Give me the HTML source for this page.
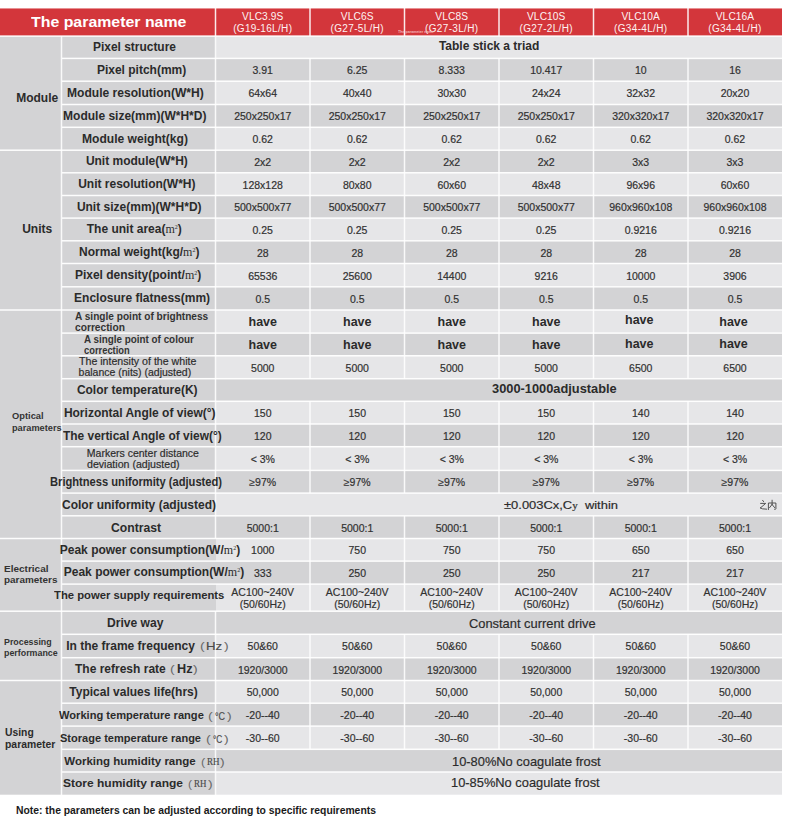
<!DOCTYPE html><html><head><meta charset="utf-8"><style>html,body{margin:0;padding:0}body{width:800px;height:825px;background:#fff;position:relative;overflow:hidden}.r{position:absolute}.t{position:absolute;white-space:nowrap;line-height:1;transform-origin:0 0}</style></head><body>
<div class="r" style="left:0px;top:9px;width:782px;height:27px;background:#d3363b"></div>
<div class="r" style="left:0px;top:8px;width:782px;height:1px;background:rgba(211,54,59,0.55)"></div>
<div class="r" style="left:0px;top:36px;width:62px;height:115px;background:#d3d3d5"></div>
<div class="r" style="left:0px;top:150px;width:62px;height:160px;background:#d3d3d5"></div>
<div class="r" style="left:0px;top:310px;width:62px;height:229px;background:#d3d3d5"></div>
<div class="r" style="left:0px;top:538px;width:62px;height:74px;background:#d3d3d5"></div>
<div class="r" style="left:0px;top:611px;width:62px;height:70px;background:#d3d3d5"></div>
<div class="r" style="left:0px;top:680px;width:62px;height:115px;background:#d3d3d5"></div>
<div class="r" style="left:61px;top:36px;width:155px;height:23px;background:#d3d3d5"></div>
<div class="r" style="left:216px;top:36px;width:566px;height:23px;background:#e6e6e8"></div>
<div class="r" style="left:61px;top:58px;width:155px;height:24px;background:#d3d3d5"></div>
<div class="r" style="left:216px;top:58px;width:566px;height:24px;background:#d3d3d5"></div>
<div class="r" style="left:61px;top:81px;width:155px;height:24px;background:#d3d3d5"></div>
<div class="r" style="left:216px;top:81px;width:566px;height:24px;background:#e6e6e8"></div>
<div class="r" style="left:61px;top:104px;width:155px;height:24px;background:#d3d3d5"></div>
<div class="r" style="left:216px;top:104px;width:566px;height:24px;background:#d3d3d5"></div>
<div class="r" style="left:61px;top:127px;width:155px;height:24px;background:#d3d3d5"></div>
<div class="r" style="left:216px;top:127px;width:566px;height:24px;background:#e6e6e8"></div>
<div class="r" style="left:61px;top:150px;width:155px;height:23px;background:#d3d3d5"></div>
<div class="r" style="left:216px;top:150px;width:566px;height:23px;background:#d3d3d5"></div>
<div class="r" style="left:61px;top:172px;width:155px;height:24px;background:#d3d3d5"></div>
<div class="r" style="left:216px;top:172px;width:566px;height:24px;background:#e6e6e8"></div>
<div class="r" style="left:61px;top:195px;width:155px;height:24px;background:#d3d3d5"></div>
<div class="r" style="left:216px;top:195px;width:566px;height:24px;background:#d3d3d5"></div>
<div class="r" style="left:61px;top:218px;width:155px;height:23px;background:#d3d3d5"></div>
<div class="r" style="left:216px;top:218px;width:566px;height:23px;background:#e6e6e8"></div>
<div class="r" style="left:61px;top:240px;width:155px;height:24px;background:#d3d3d5"></div>
<div class="r" style="left:216px;top:240px;width:566px;height:24px;background:#d3d3d5"></div>
<div class="r" style="left:61px;top:263px;width:155px;height:24px;background:#d3d3d5"></div>
<div class="r" style="left:216px;top:263px;width:566px;height:24px;background:#e6e6e8"></div>
<div class="r" style="left:61px;top:286px;width:155px;height:24px;background:#d3d3d5"></div>
<div class="r" style="left:216px;top:286px;width:566px;height:24px;background:#d3d3d5"></div>
<div class="r" style="left:61px;top:310px;width:155px;height:24px;background:#d3d3d5"></div>
<div class="r" style="left:216px;top:310px;width:566px;height:24px;background:#e6e6e8"></div>
<div class="r" style="left:61px;top:333px;width:155px;height:23px;background:#d3d3d5"></div>
<div class="r" style="left:216px;top:333px;width:566px;height:23px;background:#d3d3d5"></div>
<div class="r" style="left:61px;top:355px;width:155px;height:24px;background:#d3d3d5"></div>
<div class="r" style="left:216px;top:355px;width:566px;height:24px;background:#e6e6e8"></div>
<div class="r" style="left:61px;top:378px;width:155px;height:24px;background:#d3d3d5"></div>
<div class="r" style="left:216px;top:378px;width:566px;height:24px;background:#d3d3d5"></div>
<div class="r" style="left:61px;top:401px;width:155px;height:23px;background:#d3d3d5"></div>
<div class="r" style="left:216px;top:401px;width:566px;height:23px;background:#e6e6e8"></div>
<div class="r" style="left:61px;top:424px;width:155px;height:23px;background:#d3d3d5"></div>
<div class="r" style="left:216px;top:424px;width:566px;height:23px;background:#d3d3d5"></div>
<div class="r" style="left:61px;top:446px;width:155px;height:25px;background:#d3d3d5"></div>
<div class="r" style="left:216px;top:446px;width:566px;height:25px;background:#e6e6e8"></div>
<div class="r" style="left:61px;top:470px;width:155px;height:24px;background:#d3d3d5"></div>
<div class="r" style="left:216px;top:470px;width:566px;height:24px;background:#d3d3d5"></div>
<div class="r" style="left:61px;top:493px;width:155px;height:23px;background:#d3d3d5"></div>
<div class="r" style="left:216px;top:493px;width:566px;height:23px;background:#e6e6e8"></div>
<div class="r" style="left:61px;top:515px;width:155px;height:24px;background:#d3d3d5"></div>
<div class="r" style="left:216px;top:515px;width:566px;height:24px;background:#d3d3d5"></div>
<div class="r" style="left:61px;top:538px;width:155px;height:24px;background:#d3d3d5"></div>
<div class="r" style="left:216px;top:538px;width:566px;height:24px;background:#e6e6e8"></div>
<div class="r" style="left:61px;top:561px;width:155px;height:24px;background:#d3d3d5"></div>
<div class="r" style="left:216px;top:561px;width:566px;height:24px;background:#d3d3d5"></div>
<div class="r" style="left:61px;top:584px;width:155px;height:28px;background:#d3d3d5"></div>
<div class="r" style="left:216px;top:584px;width:566px;height:28px;background:#e6e6e8"></div>
<div class="r" style="left:61px;top:611px;width:155px;height:24px;background:#d3d3d5"></div>
<div class="r" style="left:216px;top:611px;width:566px;height:24px;background:#d3d3d5"></div>
<div class="r" style="left:61px;top:634px;width:155px;height:24px;background:#d3d3d5"></div>
<div class="r" style="left:216px;top:634px;width:566px;height:24px;background:#e6e6e8"></div>
<div class="r" style="left:61px;top:657px;width:155px;height:24px;background:#d3d3d5"></div>
<div class="r" style="left:216px;top:657px;width:566px;height:24px;background:#d3d3d5"></div>
<div class="r" style="left:61px;top:680px;width:155px;height:24px;background:#d3d3d5"></div>
<div class="r" style="left:216px;top:680px;width:566px;height:24px;background:#e6e6e8"></div>
<div class="r" style="left:61px;top:703px;width:155px;height:24px;background:#d3d3d5"></div>
<div class="r" style="left:216px;top:703px;width:566px;height:24px;background:#d3d3d5"></div>
<div class="r" style="left:61px;top:726px;width:155px;height:24px;background:#d3d3d5"></div>
<div class="r" style="left:216px;top:726px;width:566px;height:24px;background:#e6e6e8"></div>
<div class="r" style="left:61px;top:749px;width:155px;height:23px;background:#d3d3d5"></div>
<div class="r" style="left:216px;top:749px;width:566px;height:23px;background:#d3d3d5"></div>
<div class="r" style="left:61px;top:772px;width:155px;height:23px;background:#d3d3d5"></div>
<div class="r" style="left:216px;top:772px;width:566px;height:23px;background:#e6e6e8"></div>
<div class="r" style="left:0px;top:35px;width:782px;height:1px;background:rgba(255,255,255,0.617)"></div>
<div class="r" style="left:0px;top:36px;width:782px;height:1px;background:rgba(255,255,255,0.808)"></div>
<div class="r" style="left:62px;top:57px;width:720px;height:1px;background:rgba(255,255,255,0.333)"></div>
<div class="r" style="left:62px;top:58px;width:720px;height:1px;background:rgba(255,255,255,0.950)"></div>
<div class="r" style="left:62px;top:59px;width:720px;height:1px;background:rgba(255,255,255,0.142)"></div>
<div class="r" style="left:62px;top:80px;width:720px;height:1px;background:rgba(255,255,255,0.522)"></div>
<div class="r" style="left:62px;top:81px;width:720px;height:1px;background:rgba(255,255,255,0.903)"></div>
<div class="r" style="left:62px;top:103px;width:720px;height:1px;background:rgba(255,255,255,0.237)"></div>
<div class="r" style="left:62px;top:104px;width:720px;height:1px;background:rgba(255,255,255,0.950)"></div>
<div class="r" style="left:62px;top:105px;width:720px;height:1px;background:rgba(255,255,255,0.237)"></div>
<div class="r" style="left:62px;top:126px;width:720px;height:1px;background:rgba(255,255,255,0.428)"></div>
<div class="r" style="left:62px;top:127px;width:720px;height:1px;background:rgba(255,255,255,0.950)"></div>
<div class="r" style="left:62px;top:128px;width:720px;height:1px;background:rgba(255,255,255,0.048)"></div>
<div class="r" style="left:0px;top:149px;width:782px;height:1px;background:rgba(255,255,255,0.523)"></div>
<div class="r" style="left:0px;top:150px;width:782px;height:1px;background:rgba(255,255,255,0.902)"></div>
<div class="r" style="left:62px;top:172px;width:720px;height:1px;background:rgba(255,255,255,0.902)"></div>
<div class="r" style="left:62px;top:173px;width:720px;height:1px;background:rgba(255,255,255,0.523)"></div>
<div class="r" style="left:62px;top:194px;width:720px;height:1px;background:rgba(255,255,255,0.237)"></div>
<div class="r" style="left:62px;top:195px;width:720px;height:1px;background:rgba(255,255,255,0.950)"></div>
<div class="r" style="left:62px;top:196px;width:720px;height:1px;background:rgba(255,255,255,0.237)"></div>
<div class="r" style="left:62px;top:217px;width:720px;height:1px;background:rgba(255,255,255,0.618)"></div>
<div class="r" style="left:62px;top:218px;width:720px;height:1px;background:rgba(255,255,255,0.807)"></div>
<div class="r" style="left:62px;top:240px;width:720px;height:1px;background:rgba(255,255,255,0.902)"></div>
<div class="r" style="left:62px;top:241px;width:720px;height:1px;background:rgba(255,255,255,0.523)"></div>
<div class="r" style="left:62px;top:262px;width:720px;height:1px;background:rgba(255,255,255,0.237)"></div>
<div class="r" style="left:62px;top:263px;width:720px;height:1px;background:rgba(255,255,255,0.950)"></div>
<div class="r" style="left:62px;top:264px;width:720px;height:1px;background:rgba(255,255,255,0.237)"></div>
<div class="r" style="left:62px;top:286px;width:720px;height:1px;background:rgba(255,255,255,0.902)"></div>
<div class="r" style="left:62px;top:287px;width:720px;height:1px;background:rgba(255,255,255,0.523)"></div>
<div class="r" style="left:0px;top:309px;width:782px;height:1px;background:rgba(255,255,255,0.712)"></div>
<div class="r" style="left:0px;top:310px;width:782px;height:1px;background:rgba(255,255,255,0.712)"></div>
<div class="r" style="left:62px;top:332px;width:720px;height:1px;background:rgba(255,255,255,0.617)"></div>
<div class="r" style="left:62px;top:333px;width:720px;height:1px;background:rgba(255,255,255,0.808)"></div>
<div class="r" style="left:62px;top:355px;width:720px;height:1px;background:rgba(255,255,255,0.902)"></div>
<div class="r" style="left:62px;top:356px;width:720px;height:1px;background:rgba(255,255,255,0.523)"></div>
<div class="r" style="left:62px;top:377px;width:720px;height:1px;background:rgba(255,255,255,0.048)"></div>
<div class="r" style="left:62px;top:378px;width:720px;height:1px;background:rgba(255,255,255,0.950)"></div>
<div class="r" style="left:62px;top:379px;width:720px;height:1px;background:rgba(255,255,255,0.427)"></div>
<div class="r" style="left:62px;top:400px;width:720px;height:1px;background:rgba(255,255,255,0.427)"></div>
<div class="r" style="left:62px;top:401px;width:720px;height:1px;background:rgba(255,255,255,0.950)"></div>
<div class="r" style="left:62px;top:402px;width:720px;height:1px;background:rgba(255,255,255,0.048)"></div>
<div class="r" style="left:62px;top:423px;width:720px;height:1px;background:rgba(255,255,255,0.712)"></div>
<div class="r" style="left:62px;top:424px;width:720px;height:1px;background:rgba(255,255,255,0.712)"></div>
<div class="r" style="left:62px;top:445px;width:720px;height:1px;background:rgba(255,255,255,0.048)"></div>
<div class="r" style="left:62px;top:446px;width:720px;height:1px;background:rgba(255,255,255,0.950)"></div>
<div class="r" style="left:62px;top:447px;width:720px;height:1px;background:rgba(255,255,255,0.427)"></div>
<div class="r" style="left:62px;top:469px;width:720px;height:1px;background:rgba(255,255,255,0.333)"></div>
<div class="r" style="left:62px;top:470px;width:720px;height:1px;background:rgba(255,255,255,0.950)"></div>
<div class="r" style="left:62px;top:471px;width:720px;height:1px;background:rgba(255,255,255,0.142)"></div>
<div class="r" style="left:62px;top:492px;width:720px;height:1px;background:rgba(255,255,255,0.617)"></div>
<div class="r" style="left:62px;top:493px;width:720px;height:1px;background:rgba(255,255,255,0.808)"></div>
<div class="r" style="left:62px;top:515px;width:720px;height:1px;background:rgba(255,255,255,0.903)"></div>
<div class="r" style="left:62px;top:516px;width:720px;height:1px;background:rgba(255,255,255,0.522)"></div>
<div class="r" style="left:0px;top:537px;width:782px;height:1px;background:rgba(255,255,255,0.237)"></div>
<div class="r" style="left:0px;top:538px;width:782px;height:1px;background:rgba(255,255,255,0.950)"></div>
<div class="r" style="left:0px;top:539px;width:782px;height:1px;background:rgba(255,255,255,0.237)"></div>
<div class="r" style="left:62px;top:560px;width:720px;height:1px;background:rgba(255,255,255,0.617)"></div>
<div class="r" style="left:62px;top:561px;width:720px;height:1px;background:rgba(255,255,255,0.808)"></div>
<div class="r" style="left:62px;top:583px;width:720px;height:1px;background:rgba(255,255,255,0.617)"></div>
<div class="r" style="left:62px;top:584px;width:720px;height:1px;background:rgba(255,255,255,0.808)"></div>
<div class="r" style="left:0px;top:610px;width:782px;height:1px;background:rgba(255,255,255,0.522)"></div>
<div class="r" style="left:0px;top:611px;width:782px;height:1px;background:rgba(255,255,255,0.903)"></div>
<div class="r" style="left:62px;top:633px;width:720px;height:1px;background:rgba(255,255,255,0.428)"></div>
<div class="r" style="left:62px;top:634px;width:720px;height:1px;background:rgba(255,255,255,0.950)"></div>
<div class="r" style="left:62px;top:635px;width:720px;height:1px;background:rgba(255,255,255,0.047)"></div>
<div class="r" style="left:62px;top:656px;width:720px;height:1px;background:rgba(255,255,255,0.047)"></div>
<div class="r" style="left:62px;top:657px;width:720px;height:1px;background:rgba(255,255,255,0.950)"></div>
<div class="r" style="left:62px;top:658px;width:720px;height:1px;background:rgba(255,255,255,0.428)"></div>
<div class="r" style="left:0px;top:679px;width:782px;height:1px;background:rgba(255,255,255,0.237)"></div>
<div class="r" style="left:0px;top:680px;width:782px;height:1px;background:rgba(255,255,255,0.950)"></div>
<div class="r" style="left:0px;top:681px;width:782px;height:1px;background:rgba(255,255,255,0.237)"></div>
<div class="r" style="left:62px;top:702px;width:720px;height:1px;background:rgba(255,255,255,0.522)"></div>
<div class="r" style="left:62px;top:703px;width:720px;height:1px;background:rgba(255,255,255,0.903)"></div>
<div class="r" style="left:62px;top:725px;width:720px;height:1px;background:rgba(255,255,255,0.617)"></div>
<div class="r" style="left:62px;top:726px;width:720px;height:1px;background:rgba(255,255,255,0.808)"></div>
<div class="r" style="left:62px;top:748px;width:720px;height:1px;background:rgba(255,255,255,0.428)"></div>
<div class="r" style="left:62px;top:749px;width:720px;height:1px;background:rgba(255,255,255,0.950)"></div>
<div class="r" style="left:62px;top:750px;width:720px;height:1px;background:rgba(255,255,255,0.047)"></div>
<div class="r" style="left:62px;top:771px;width:720px;height:1px;background:rgba(255,255,255,0.712)"></div>
<div class="r" style="left:62px;top:772px;width:720px;height:1px;background:rgba(255,255,255,0.712)"></div>
<div class="r" style="left:0px;top:794px;width:782px;height:1px;background:rgba(255,255,255,0.300)"></div>
<div class="r" style="left:0px;top:795px;width:782px;height:1px;background:rgba(255,255,255,0.500)"></div>
<div class="r" style="left:60px;top:36px;width:1px;height:759px;background:rgba(255,255,255,0.212)"></div>
<div class="r" style="left:61px;top:36px;width:1px;height:759px;background:rgba(255,255,255,0.850)"></div>
<div class="r" style="left:62px;top:36px;width:1px;height:759px;background:rgba(255,255,255,0.212)"></div>
<div class="r" style="left:214px;top:36px;width:1px;height:22px;background:rgba(255,255,255,0.212)"></div>
<div class="r" style="left:215px;top:36px;width:1px;height:22px;background:rgba(255,255,255,0.850)"></div>
<div class="r" style="left:216px;top:36px;width:1px;height:22px;background:rgba(255,255,255,0.212)"></div>
<div class="r" style="left:214px;top:58px;width:1px;height:23px;background:rgba(255,255,255,0.212)"></div>
<div class="r" style="left:215px;top:58px;width:1px;height:23px;background:rgba(255,255,255,0.850)"></div>
<div class="r" style="left:216px;top:58px;width:1px;height:23px;background:rgba(255,255,255,0.212)"></div>
<div class="r" style="left:309px;top:58px;width:1px;height:23px;background:rgba(255,255,255,0.637)"></div>
<div class="r" style="left:310px;top:58px;width:1px;height:23px;background:rgba(255,255,255,0.637)"></div>
<div class="r" style="left:403px;top:58px;width:1px;height:23px;background:rgba(255,255,255,0.212)"></div>
<div class="r" style="left:404px;top:58px;width:1px;height:23px;background:rgba(255,255,255,0.850)"></div>
<div class="r" style="left:405px;top:58px;width:1px;height:23px;background:rgba(255,255,255,0.212)"></div>
<div class="r" style="left:498px;top:58px;width:1px;height:23px;background:rgba(255,255,255,0.637)"></div>
<div class="r" style="left:499px;top:58px;width:1px;height:23px;background:rgba(255,255,255,0.637)"></div>
<div class="r" style="left:592px;top:58px;width:1px;height:23px;background:rgba(255,255,255,0.212)"></div>
<div class="r" style="left:593px;top:58px;width:1px;height:23px;background:rgba(255,255,255,0.850)"></div>
<div class="r" style="left:594px;top:58px;width:1px;height:23px;background:rgba(255,255,255,0.212)"></div>
<div class="r" style="left:687px;top:58px;width:1px;height:23px;background:rgba(255,255,255,0.637)"></div>
<div class="r" style="left:688px;top:58px;width:1px;height:23px;background:rgba(255,255,255,0.637)"></div>
<div class="r" style="left:214px;top:81px;width:1px;height:23px;background:rgba(255,255,255,0.212)"></div>
<div class="r" style="left:215px;top:81px;width:1px;height:23px;background:rgba(255,255,255,0.850)"></div>
<div class="r" style="left:216px;top:81px;width:1px;height:23px;background:rgba(255,255,255,0.212)"></div>
<div class="r" style="left:309px;top:81px;width:1px;height:23px;background:rgba(255,255,255,0.637)"></div>
<div class="r" style="left:310px;top:81px;width:1px;height:23px;background:rgba(255,255,255,0.637)"></div>
<div class="r" style="left:403px;top:81px;width:1px;height:23px;background:rgba(255,255,255,0.212)"></div>
<div class="r" style="left:404px;top:81px;width:1px;height:23px;background:rgba(255,255,255,0.850)"></div>
<div class="r" style="left:405px;top:81px;width:1px;height:23px;background:rgba(255,255,255,0.212)"></div>
<div class="r" style="left:498px;top:81px;width:1px;height:23px;background:rgba(255,255,255,0.637)"></div>
<div class="r" style="left:499px;top:81px;width:1px;height:23px;background:rgba(255,255,255,0.637)"></div>
<div class="r" style="left:592px;top:81px;width:1px;height:23px;background:rgba(255,255,255,0.212)"></div>
<div class="r" style="left:593px;top:81px;width:1px;height:23px;background:rgba(255,255,255,0.850)"></div>
<div class="r" style="left:594px;top:81px;width:1px;height:23px;background:rgba(255,255,255,0.212)"></div>
<div class="r" style="left:687px;top:81px;width:1px;height:23px;background:rgba(255,255,255,0.637)"></div>
<div class="r" style="left:688px;top:81px;width:1px;height:23px;background:rgba(255,255,255,0.637)"></div>
<div class="r" style="left:214px;top:104px;width:1px;height:23px;background:rgba(255,255,255,0.212)"></div>
<div class="r" style="left:215px;top:104px;width:1px;height:23px;background:rgba(255,255,255,0.850)"></div>
<div class="r" style="left:216px;top:104px;width:1px;height:23px;background:rgba(255,255,255,0.212)"></div>
<div class="r" style="left:309px;top:104px;width:1px;height:23px;background:rgba(255,255,255,0.637)"></div>
<div class="r" style="left:310px;top:104px;width:1px;height:23px;background:rgba(255,255,255,0.637)"></div>
<div class="r" style="left:403px;top:104px;width:1px;height:23px;background:rgba(255,255,255,0.212)"></div>
<div class="r" style="left:404px;top:104px;width:1px;height:23px;background:rgba(255,255,255,0.850)"></div>
<div class="r" style="left:405px;top:104px;width:1px;height:23px;background:rgba(255,255,255,0.212)"></div>
<div class="r" style="left:498px;top:104px;width:1px;height:23px;background:rgba(255,255,255,0.637)"></div>
<div class="r" style="left:499px;top:104px;width:1px;height:23px;background:rgba(255,255,255,0.637)"></div>
<div class="r" style="left:592px;top:104px;width:1px;height:23px;background:rgba(255,255,255,0.212)"></div>
<div class="r" style="left:593px;top:104px;width:1px;height:23px;background:rgba(255,255,255,0.850)"></div>
<div class="r" style="left:594px;top:104px;width:1px;height:23px;background:rgba(255,255,255,0.212)"></div>
<div class="r" style="left:687px;top:104px;width:1px;height:23px;background:rgba(255,255,255,0.637)"></div>
<div class="r" style="left:688px;top:104px;width:1px;height:23px;background:rgba(255,255,255,0.637)"></div>
<div class="r" style="left:214px;top:127px;width:1px;height:23px;background:rgba(255,255,255,0.212)"></div>
<div class="r" style="left:215px;top:127px;width:1px;height:23px;background:rgba(255,255,255,0.850)"></div>
<div class="r" style="left:216px;top:127px;width:1px;height:23px;background:rgba(255,255,255,0.212)"></div>
<div class="r" style="left:309px;top:127px;width:1px;height:23px;background:rgba(255,255,255,0.637)"></div>
<div class="r" style="left:310px;top:127px;width:1px;height:23px;background:rgba(255,255,255,0.637)"></div>
<div class="r" style="left:403px;top:127px;width:1px;height:23px;background:rgba(255,255,255,0.212)"></div>
<div class="r" style="left:404px;top:127px;width:1px;height:23px;background:rgba(255,255,255,0.850)"></div>
<div class="r" style="left:405px;top:127px;width:1px;height:23px;background:rgba(255,255,255,0.212)"></div>
<div class="r" style="left:498px;top:127px;width:1px;height:23px;background:rgba(255,255,255,0.637)"></div>
<div class="r" style="left:499px;top:127px;width:1px;height:23px;background:rgba(255,255,255,0.637)"></div>
<div class="r" style="left:592px;top:127px;width:1px;height:23px;background:rgba(255,255,255,0.212)"></div>
<div class="r" style="left:593px;top:127px;width:1px;height:23px;background:rgba(255,255,255,0.850)"></div>
<div class="r" style="left:594px;top:127px;width:1px;height:23px;background:rgba(255,255,255,0.212)"></div>
<div class="r" style="left:687px;top:127px;width:1px;height:23px;background:rgba(255,255,255,0.637)"></div>
<div class="r" style="left:688px;top:127px;width:1px;height:23px;background:rgba(255,255,255,0.637)"></div>
<div class="r" style="left:214px;top:150px;width:1px;height:23px;background:rgba(255,255,255,0.212)"></div>
<div class="r" style="left:215px;top:150px;width:1px;height:23px;background:rgba(255,255,255,0.850)"></div>
<div class="r" style="left:216px;top:150px;width:1px;height:23px;background:rgba(255,255,255,0.212)"></div>
<div class="r" style="left:309px;top:150px;width:1px;height:23px;background:rgba(255,255,255,0.637)"></div>
<div class="r" style="left:310px;top:150px;width:1px;height:23px;background:rgba(255,255,255,0.637)"></div>
<div class="r" style="left:403px;top:150px;width:1px;height:23px;background:rgba(255,255,255,0.212)"></div>
<div class="r" style="left:404px;top:150px;width:1px;height:23px;background:rgba(255,255,255,0.850)"></div>
<div class="r" style="left:405px;top:150px;width:1px;height:23px;background:rgba(255,255,255,0.212)"></div>
<div class="r" style="left:498px;top:150px;width:1px;height:23px;background:rgba(255,255,255,0.637)"></div>
<div class="r" style="left:499px;top:150px;width:1px;height:23px;background:rgba(255,255,255,0.637)"></div>
<div class="r" style="left:592px;top:150px;width:1px;height:23px;background:rgba(255,255,255,0.212)"></div>
<div class="r" style="left:593px;top:150px;width:1px;height:23px;background:rgba(255,255,255,0.850)"></div>
<div class="r" style="left:594px;top:150px;width:1px;height:23px;background:rgba(255,255,255,0.212)"></div>
<div class="r" style="left:687px;top:150px;width:1px;height:23px;background:rgba(255,255,255,0.637)"></div>
<div class="r" style="left:688px;top:150px;width:1px;height:23px;background:rgba(255,255,255,0.637)"></div>
<div class="r" style="left:214px;top:173px;width:1px;height:23px;background:rgba(255,255,255,0.212)"></div>
<div class="r" style="left:215px;top:173px;width:1px;height:23px;background:rgba(255,255,255,0.850)"></div>
<div class="r" style="left:216px;top:173px;width:1px;height:23px;background:rgba(255,255,255,0.212)"></div>
<div class="r" style="left:309px;top:173px;width:1px;height:23px;background:rgba(255,255,255,0.637)"></div>
<div class="r" style="left:310px;top:173px;width:1px;height:23px;background:rgba(255,255,255,0.637)"></div>
<div class="r" style="left:403px;top:173px;width:1px;height:23px;background:rgba(255,255,255,0.212)"></div>
<div class="r" style="left:404px;top:173px;width:1px;height:23px;background:rgba(255,255,255,0.850)"></div>
<div class="r" style="left:405px;top:173px;width:1px;height:23px;background:rgba(255,255,255,0.212)"></div>
<div class="r" style="left:498px;top:173px;width:1px;height:23px;background:rgba(255,255,255,0.637)"></div>
<div class="r" style="left:499px;top:173px;width:1px;height:23px;background:rgba(255,255,255,0.637)"></div>
<div class="r" style="left:592px;top:173px;width:1px;height:23px;background:rgba(255,255,255,0.212)"></div>
<div class="r" style="left:593px;top:173px;width:1px;height:23px;background:rgba(255,255,255,0.850)"></div>
<div class="r" style="left:594px;top:173px;width:1px;height:23px;background:rgba(255,255,255,0.212)"></div>
<div class="r" style="left:687px;top:173px;width:1px;height:23px;background:rgba(255,255,255,0.637)"></div>
<div class="r" style="left:688px;top:173px;width:1px;height:23px;background:rgba(255,255,255,0.637)"></div>
<div class="r" style="left:214px;top:196px;width:1px;height:22px;background:rgba(255,255,255,0.212)"></div>
<div class="r" style="left:215px;top:196px;width:1px;height:22px;background:rgba(255,255,255,0.850)"></div>
<div class="r" style="left:216px;top:196px;width:1px;height:22px;background:rgba(255,255,255,0.212)"></div>
<div class="r" style="left:309px;top:196px;width:1px;height:22px;background:rgba(255,255,255,0.637)"></div>
<div class="r" style="left:310px;top:196px;width:1px;height:22px;background:rgba(255,255,255,0.637)"></div>
<div class="r" style="left:403px;top:196px;width:1px;height:22px;background:rgba(255,255,255,0.212)"></div>
<div class="r" style="left:404px;top:196px;width:1px;height:22px;background:rgba(255,255,255,0.850)"></div>
<div class="r" style="left:405px;top:196px;width:1px;height:22px;background:rgba(255,255,255,0.212)"></div>
<div class="r" style="left:498px;top:196px;width:1px;height:22px;background:rgba(255,255,255,0.637)"></div>
<div class="r" style="left:499px;top:196px;width:1px;height:22px;background:rgba(255,255,255,0.637)"></div>
<div class="r" style="left:592px;top:196px;width:1px;height:22px;background:rgba(255,255,255,0.212)"></div>
<div class="r" style="left:593px;top:196px;width:1px;height:22px;background:rgba(255,255,255,0.850)"></div>
<div class="r" style="left:594px;top:196px;width:1px;height:22px;background:rgba(255,255,255,0.212)"></div>
<div class="r" style="left:687px;top:196px;width:1px;height:22px;background:rgba(255,255,255,0.637)"></div>
<div class="r" style="left:688px;top:196px;width:1px;height:22px;background:rgba(255,255,255,0.637)"></div>
<div class="r" style="left:214px;top:218px;width:1px;height:23px;background:rgba(255,255,255,0.212)"></div>
<div class="r" style="left:215px;top:218px;width:1px;height:23px;background:rgba(255,255,255,0.850)"></div>
<div class="r" style="left:216px;top:218px;width:1px;height:23px;background:rgba(255,255,255,0.212)"></div>
<div class="r" style="left:309px;top:218px;width:1px;height:23px;background:rgba(255,255,255,0.637)"></div>
<div class="r" style="left:310px;top:218px;width:1px;height:23px;background:rgba(255,255,255,0.637)"></div>
<div class="r" style="left:403px;top:218px;width:1px;height:23px;background:rgba(255,255,255,0.212)"></div>
<div class="r" style="left:404px;top:218px;width:1px;height:23px;background:rgba(255,255,255,0.850)"></div>
<div class="r" style="left:405px;top:218px;width:1px;height:23px;background:rgba(255,255,255,0.212)"></div>
<div class="r" style="left:498px;top:218px;width:1px;height:23px;background:rgba(255,255,255,0.637)"></div>
<div class="r" style="left:499px;top:218px;width:1px;height:23px;background:rgba(255,255,255,0.637)"></div>
<div class="r" style="left:592px;top:218px;width:1px;height:23px;background:rgba(255,255,255,0.212)"></div>
<div class="r" style="left:593px;top:218px;width:1px;height:23px;background:rgba(255,255,255,0.850)"></div>
<div class="r" style="left:594px;top:218px;width:1px;height:23px;background:rgba(255,255,255,0.212)"></div>
<div class="r" style="left:687px;top:218px;width:1px;height:23px;background:rgba(255,255,255,0.637)"></div>
<div class="r" style="left:688px;top:218px;width:1px;height:23px;background:rgba(255,255,255,0.637)"></div>
<div class="r" style="left:214px;top:241px;width:1px;height:23px;background:rgba(255,255,255,0.212)"></div>
<div class="r" style="left:215px;top:241px;width:1px;height:23px;background:rgba(255,255,255,0.850)"></div>
<div class="r" style="left:216px;top:241px;width:1px;height:23px;background:rgba(255,255,255,0.212)"></div>
<div class="r" style="left:309px;top:241px;width:1px;height:23px;background:rgba(255,255,255,0.637)"></div>
<div class="r" style="left:310px;top:241px;width:1px;height:23px;background:rgba(255,255,255,0.637)"></div>
<div class="r" style="left:403px;top:241px;width:1px;height:23px;background:rgba(255,255,255,0.212)"></div>
<div class="r" style="left:404px;top:241px;width:1px;height:23px;background:rgba(255,255,255,0.850)"></div>
<div class="r" style="left:405px;top:241px;width:1px;height:23px;background:rgba(255,255,255,0.212)"></div>
<div class="r" style="left:498px;top:241px;width:1px;height:23px;background:rgba(255,255,255,0.637)"></div>
<div class="r" style="left:499px;top:241px;width:1px;height:23px;background:rgba(255,255,255,0.637)"></div>
<div class="r" style="left:592px;top:241px;width:1px;height:23px;background:rgba(255,255,255,0.212)"></div>
<div class="r" style="left:593px;top:241px;width:1px;height:23px;background:rgba(255,255,255,0.850)"></div>
<div class="r" style="left:594px;top:241px;width:1px;height:23px;background:rgba(255,255,255,0.212)"></div>
<div class="r" style="left:687px;top:241px;width:1px;height:23px;background:rgba(255,255,255,0.637)"></div>
<div class="r" style="left:688px;top:241px;width:1px;height:23px;background:rgba(255,255,255,0.637)"></div>
<div class="r" style="left:214px;top:264px;width:1px;height:23px;background:rgba(255,255,255,0.212)"></div>
<div class="r" style="left:215px;top:264px;width:1px;height:23px;background:rgba(255,255,255,0.850)"></div>
<div class="r" style="left:216px;top:264px;width:1px;height:23px;background:rgba(255,255,255,0.212)"></div>
<div class="r" style="left:309px;top:264px;width:1px;height:23px;background:rgba(255,255,255,0.637)"></div>
<div class="r" style="left:310px;top:264px;width:1px;height:23px;background:rgba(255,255,255,0.637)"></div>
<div class="r" style="left:403px;top:264px;width:1px;height:23px;background:rgba(255,255,255,0.212)"></div>
<div class="r" style="left:404px;top:264px;width:1px;height:23px;background:rgba(255,255,255,0.850)"></div>
<div class="r" style="left:405px;top:264px;width:1px;height:23px;background:rgba(255,255,255,0.212)"></div>
<div class="r" style="left:498px;top:264px;width:1px;height:23px;background:rgba(255,255,255,0.637)"></div>
<div class="r" style="left:499px;top:264px;width:1px;height:23px;background:rgba(255,255,255,0.637)"></div>
<div class="r" style="left:592px;top:264px;width:1px;height:23px;background:rgba(255,255,255,0.212)"></div>
<div class="r" style="left:593px;top:264px;width:1px;height:23px;background:rgba(255,255,255,0.850)"></div>
<div class="r" style="left:594px;top:264px;width:1px;height:23px;background:rgba(255,255,255,0.212)"></div>
<div class="r" style="left:687px;top:264px;width:1px;height:23px;background:rgba(255,255,255,0.637)"></div>
<div class="r" style="left:688px;top:264px;width:1px;height:23px;background:rgba(255,255,255,0.637)"></div>
<div class="r" style="left:214px;top:287px;width:1px;height:23px;background:rgba(255,255,255,0.212)"></div>
<div class="r" style="left:215px;top:287px;width:1px;height:23px;background:rgba(255,255,255,0.850)"></div>
<div class="r" style="left:216px;top:287px;width:1px;height:23px;background:rgba(255,255,255,0.212)"></div>
<div class="r" style="left:309px;top:287px;width:1px;height:23px;background:rgba(255,255,255,0.637)"></div>
<div class="r" style="left:310px;top:287px;width:1px;height:23px;background:rgba(255,255,255,0.637)"></div>
<div class="r" style="left:403px;top:287px;width:1px;height:23px;background:rgba(255,255,255,0.212)"></div>
<div class="r" style="left:404px;top:287px;width:1px;height:23px;background:rgba(255,255,255,0.850)"></div>
<div class="r" style="left:405px;top:287px;width:1px;height:23px;background:rgba(255,255,255,0.212)"></div>
<div class="r" style="left:498px;top:287px;width:1px;height:23px;background:rgba(255,255,255,0.637)"></div>
<div class="r" style="left:499px;top:287px;width:1px;height:23px;background:rgba(255,255,255,0.637)"></div>
<div class="r" style="left:592px;top:287px;width:1px;height:23px;background:rgba(255,255,255,0.212)"></div>
<div class="r" style="left:593px;top:287px;width:1px;height:23px;background:rgba(255,255,255,0.850)"></div>
<div class="r" style="left:594px;top:287px;width:1px;height:23px;background:rgba(255,255,255,0.212)"></div>
<div class="r" style="left:687px;top:287px;width:1px;height:23px;background:rgba(255,255,255,0.637)"></div>
<div class="r" style="left:688px;top:287px;width:1px;height:23px;background:rgba(255,255,255,0.637)"></div>
<div class="r" style="left:214px;top:310px;width:1px;height:23px;background:rgba(255,255,255,0.212)"></div>
<div class="r" style="left:215px;top:310px;width:1px;height:23px;background:rgba(255,255,255,0.850)"></div>
<div class="r" style="left:216px;top:310px;width:1px;height:23px;background:rgba(255,255,255,0.212)"></div>
<div class="r" style="left:309px;top:310px;width:1px;height:23px;background:rgba(255,255,255,0.637)"></div>
<div class="r" style="left:310px;top:310px;width:1px;height:23px;background:rgba(255,255,255,0.637)"></div>
<div class="r" style="left:403px;top:310px;width:1px;height:23px;background:rgba(255,255,255,0.212)"></div>
<div class="r" style="left:404px;top:310px;width:1px;height:23px;background:rgba(255,255,255,0.850)"></div>
<div class="r" style="left:405px;top:310px;width:1px;height:23px;background:rgba(255,255,255,0.212)"></div>
<div class="r" style="left:498px;top:310px;width:1px;height:23px;background:rgba(255,255,255,0.637)"></div>
<div class="r" style="left:499px;top:310px;width:1px;height:23px;background:rgba(255,255,255,0.637)"></div>
<div class="r" style="left:592px;top:310px;width:1px;height:23px;background:rgba(255,255,255,0.212)"></div>
<div class="r" style="left:593px;top:310px;width:1px;height:23px;background:rgba(255,255,255,0.850)"></div>
<div class="r" style="left:594px;top:310px;width:1px;height:23px;background:rgba(255,255,255,0.212)"></div>
<div class="r" style="left:687px;top:310px;width:1px;height:23px;background:rgba(255,255,255,0.637)"></div>
<div class="r" style="left:688px;top:310px;width:1px;height:23px;background:rgba(255,255,255,0.637)"></div>
<div class="r" style="left:214px;top:333px;width:1px;height:23px;background:rgba(255,255,255,0.212)"></div>
<div class="r" style="left:215px;top:333px;width:1px;height:23px;background:rgba(255,255,255,0.850)"></div>
<div class="r" style="left:216px;top:333px;width:1px;height:23px;background:rgba(255,255,255,0.212)"></div>
<div class="r" style="left:309px;top:333px;width:1px;height:23px;background:rgba(255,255,255,0.637)"></div>
<div class="r" style="left:310px;top:333px;width:1px;height:23px;background:rgba(255,255,255,0.637)"></div>
<div class="r" style="left:403px;top:333px;width:1px;height:23px;background:rgba(255,255,255,0.212)"></div>
<div class="r" style="left:404px;top:333px;width:1px;height:23px;background:rgba(255,255,255,0.850)"></div>
<div class="r" style="left:405px;top:333px;width:1px;height:23px;background:rgba(255,255,255,0.212)"></div>
<div class="r" style="left:498px;top:333px;width:1px;height:23px;background:rgba(255,255,255,0.637)"></div>
<div class="r" style="left:499px;top:333px;width:1px;height:23px;background:rgba(255,255,255,0.637)"></div>
<div class="r" style="left:592px;top:333px;width:1px;height:23px;background:rgba(255,255,255,0.212)"></div>
<div class="r" style="left:593px;top:333px;width:1px;height:23px;background:rgba(255,255,255,0.850)"></div>
<div class="r" style="left:594px;top:333px;width:1px;height:23px;background:rgba(255,255,255,0.212)"></div>
<div class="r" style="left:687px;top:333px;width:1px;height:23px;background:rgba(255,255,255,0.637)"></div>
<div class="r" style="left:688px;top:333px;width:1px;height:23px;background:rgba(255,255,255,0.637)"></div>
<div class="r" style="left:214px;top:356px;width:1px;height:23px;background:rgba(255,255,255,0.212)"></div>
<div class="r" style="left:215px;top:356px;width:1px;height:23px;background:rgba(255,255,255,0.850)"></div>
<div class="r" style="left:216px;top:356px;width:1px;height:23px;background:rgba(255,255,255,0.212)"></div>
<div class="r" style="left:309px;top:356px;width:1px;height:23px;background:rgba(255,255,255,0.637)"></div>
<div class="r" style="left:310px;top:356px;width:1px;height:23px;background:rgba(255,255,255,0.637)"></div>
<div class="r" style="left:403px;top:356px;width:1px;height:23px;background:rgba(255,255,255,0.212)"></div>
<div class="r" style="left:404px;top:356px;width:1px;height:23px;background:rgba(255,255,255,0.850)"></div>
<div class="r" style="left:405px;top:356px;width:1px;height:23px;background:rgba(255,255,255,0.212)"></div>
<div class="r" style="left:498px;top:356px;width:1px;height:23px;background:rgba(255,255,255,0.637)"></div>
<div class="r" style="left:499px;top:356px;width:1px;height:23px;background:rgba(255,255,255,0.637)"></div>
<div class="r" style="left:592px;top:356px;width:1px;height:23px;background:rgba(255,255,255,0.212)"></div>
<div class="r" style="left:593px;top:356px;width:1px;height:23px;background:rgba(255,255,255,0.850)"></div>
<div class="r" style="left:594px;top:356px;width:1px;height:23px;background:rgba(255,255,255,0.212)"></div>
<div class="r" style="left:687px;top:356px;width:1px;height:23px;background:rgba(255,255,255,0.637)"></div>
<div class="r" style="left:688px;top:356px;width:1px;height:23px;background:rgba(255,255,255,0.637)"></div>
<div class="r" style="left:214px;top:379px;width:1px;height:22px;background:rgba(255,255,255,0.212)"></div>
<div class="r" style="left:215px;top:379px;width:1px;height:22px;background:rgba(255,255,255,0.850)"></div>
<div class="r" style="left:216px;top:379px;width:1px;height:22px;background:rgba(255,255,255,0.212)"></div>
<div class="r" style="left:214px;top:401px;width:1px;height:23px;background:rgba(255,255,255,0.212)"></div>
<div class="r" style="left:215px;top:401px;width:1px;height:23px;background:rgba(255,255,255,0.850)"></div>
<div class="r" style="left:216px;top:401px;width:1px;height:23px;background:rgba(255,255,255,0.212)"></div>
<div class="r" style="left:309px;top:401px;width:1px;height:23px;background:rgba(255,255,255,0.637)"></div>
<div class="r" style="left:310px;top:401px;width:1px;height:23px;background:rgba(255,255,255,0.637)"></div>
<div class="r" style="left:403px;top:401px;width:1px;height:23px;background:rgba(255,255,255,0.212)"></div>
<div class="r" style="left:404px;top:401px;width:1px;height:23px;background:rgba(255,255,255,0.850)"></div>
<div class="r" style="left:405px;top:401px;width:1px;height:23px;background:rgba(255,255,255,0.212)"></div>
<div class="r" style="left:498px;top:401px;width:1px;height:23px;background:rgba(255,255,255,0.637)"></div>
<div class="r" style="left:499px;top:401px;width:1px;height:23px;background:rgba(255,255,255,0.637)"></div>
<div class="r" style="left:592px;top:401px;width:1px;height:23px;background:rgba(255,255,255,0.212)"></div>
<div class="r" style="left:593px;top:401px;width:1px;height:23px;background:rgba(255,255,255,0.850)"></div>
<div class="r" style="left:594px;top:401px;width:1px;height:23px;background:rgba(255,255,255,0.212)"></div>
<div class="r" style="left:687px;top:401px;width:1px;height:23px;background:rgba(255,255,255,0.637)"></div>
<div class="r" style="left:688px;top:401px;width:1px;height:23px;background:rgba(255,255,255,0.637)"></div>
<div class="r" style="left:214px;top:424px;width:1px;height:23px;background:rgba(255,255,255,0.212)"></div>
<div class="r" style="left:215px;top:424px;width:1px;height:23px;background:rgba(255,255,255,0.850)"></div>
<div class="r" style="left:216px;top:424px;width:1px;height:23px;background:rgba(255,255,255,0.212)"></div>
<div class="r" style="left:309px;top:424px;width:1px;height:23px;background:rgba(255,255,255,0.637)"></div>
<div class="r" style="left:310px;top:424px;width:1px;height:23px;background:rgba(255,255,255,0.637)"></div>
<div class="r" style="left:403px;top:424px;width:1px;height:23px;background:rgba(255,255,255,0.212)"></div>
<div class="r" style="left:404px;top:424px;width:1px;height:23px;background:rgba(255,255,255,0.850)"></div>
<div class="r" style="left:405px;top:424px;width:1px;height:23px;background:rgba(255,255,255,0.212)"></div>
<div class="r" style="left:498px;top:424px;width:1px;height:23px;background:rgba(255,255,255,0.637)"></div>
<div class="r" style="left:499px;top:424px;width:1px;height:23px;background:rgba(255,255,255,0.637)"></div>
<div class="r" style="left:592px;top:424px;width:1px;height:23px;background:rgba(255,255,255,0.212)"></div>
<div class="r" style="left:593px;top:424px;width:1px;height:23px;background:rgba(255,255,255,0.850)"></div>
<div class="r" style="left:594px;top:424px;width:1px;height:23px;background:rgba(255,255,255,0.212)"></div>
<div class="r" style="left:687px;top:424px;width:1px;height:23px;background:rgba(255,255,255,0.637)"></div>
<div class="r" style="left:688px;top:424px;width:1px;height:23px;background:rgba(255,255,255,0.637)"></div>
<div class="r" style="left:214px;top:447px;width:1px;height:23px;background:rgba(255,255,255,0.212)"></div>
<div class="r" style="left:215px;top:447px;width:1px;height:23px;background:rgba(255,255,255,0.850)"></div>
<div class="r" style="left:216px;top:447px;width:1px;height:23px;background:rgba(255,255,255,0.212)"></div>
<div class="r" style="left:309px;top:447px;width:1px;height:23px;background:rgba(255,255,255,0.637)"></div>
<div class="r" style="left:310px;top:447px;width:1px;height:23px;background:rgba(255,255,255,0.637)"></div>
<div class="r" style="left:403px;top:447px;width:1px;height:23px;background:rgba(255,255,255,0.212)"></div>
<div class="r" style="left:404px;top:447px;width:1px;height:23px;background:rgba(255,255,255,0.850)"></div>
<div class="r" style="left:405px;top:447px;width:1px;height:23px;background:rgba(255,255,255,0.212)"></div>
<div class="r" style="left:498px;top:447px;width:1px;height:23px;background:rgba(255,255,255,0.637)"></div>
<div class="r" style="left:499px;top:447px;width:1px;height:23px;background:rgba(255,255,255,0.637)"></div>
<div class="r" style="left:592px;top:447px;width:1px;height:23px;background:rgba(255,255,255,0.212)"></div>
<div class="r" style="left:593px;top:447px;width:1px;height:23px;background:rgba(255,255,255,0.850)"></div>
<div class="r" style="left:594px;top:447px;width:1px;height:23px;background:rgba(255,255,255,0.212)"></div>
<div class="r" style="left:687px;top:447px;width:1px;height:23px;background:rgba(255,255,255,0.637)"></div>
<div class="r" style="left:688px;top:447px;width:1px;height:23px;background:rgba(255,255,255,0.637)"></div>
<div class="r" style="left:214px;top:470px;width:1px;height:23px;background:rgba(255,255,255,0.212)"></div>
<div class="r" style="left:215px;top:470px;width:1px;height:23px;background:rgba(255,255,255,0.850)"></div>
<div class="r" style="left:216px;top:470px;width:1px;height:23px;background:rgba(255,255,255,0.212)"></div>
<div class="r" style="left:309px;top:470px;width:1px;height:23px;background:rgba(255,255,255,0.637)"></div>
<div class="r" style="left:310px;top:470px;width:1px;height:23px;background:rgba(255,255,255,0.637)"></div>
<div class="r" style="left:403px;top:470px;width:1px;height:23px;background:rgba(255,255,255,0.212)"></div>
<div class="r" style="left:404px;top:470px;width:1px;height:23px;background:rgba(255,255,255,0.850)"></div>
<div class="r" style="left:405px;top:470px;width:1px;height:23px;background:rgba(255,255,255,0.212)"></div>
<div class="r" style="left:498px;top:470px;width:1px;height:23px;background:rgba(255,255,255,0.637)"></div>
<div class="r" style="left:499px;top:470px;width:1px;height:23px;background:rgba(255,255,255,0.637)"></div>
<div class="r" style="left:592px;top:470px;width:1px;height:23px;background:rgba(255,255,255,0.212)"></div>
<div class="r" style="left:593px;top:470px;width:1px;height:23px;background:rgba(255,255,255,0.850)"></div>
<div class="r" style="left:594px;top:470px;width:1px;height:23px;background:rgba(255,255,255,0.212)"></div>
<div class="r" style="left:687px;top:470px;width:1px;height:23px;background:rgba(255,255,255,0.637)"></div>
<div class="r" style="left:688px;top:470px;width:1px;height:23px;background:rgba(255,255,255,0.637)"></div>
<div class="r" style="left:214px;top:493px;width:1px;height:23px;background:rgba(255,255,255,0.212)"></div>
<div class="r" style="left:215px;top:493px;width:1px;height:23px;background:rgba(255,255,255,0.850)"></div>
<div class="r" style="left:216px;top:493px;width:1px;height:23px;background:rgba(255,255,255,0.212)"></div>
<div class="r" style="left:214px;top:516px;width:1px;height:22px;background:rgba(255,255,255,0.212)"></div>
<div class="r" style="left:215px;top:516px;width:1px;height:22px;background:rgba(255,255,255,0.850)"></div>
<div class="r" style="left:216px;top:516px;width:1px;height:22px;background:rgba(255,255,255,0.212)"></div>
<div class="r" style="left:309px;top:516px;width:1px;height:22px;background:rgba(255,255,255,0.637)"></div>
<div class="r" style="left:310px;top:516px;width:1px;height:22px;background:rgba(255,255,255,0.637)"></div>
<div class="r" style="left:403px;top:516px;width:1px;height:22px;background:rgba(255,255,255,0.212)"></div>
<div class="r" style="left:404px;top:516px;width:1px;height:22px;background:rgba(255,255,255,0.850)"></div>
<div class="r" style="left:405px;top:516px;width:1px;height:22px;background:rgba(255,255,255,0.212)"></div>
<div class="r" style="left:498px;top:516px;width:1px;height:22px;background:rgba(255,255,255,0.637)"></div>
<div class="r" style="left:499px;top:516px;width:1px;height:22px;background:rgba(255,255,255,0.637)"></div>
<div class="r" style="left:592px;top:516px;width:1px;height:22px;background:rgba(255,255,255,0.212)"></div>
<div class="r" style="left:593px;top:516px;width:1px;height:22px;background:rgba(255,255,255,0.850)"></div>
<div class="r" style="left:594px;top:516px;width:1px;height:22px;background:rgba(255,255,255,0.212)"></div>
<div class="r" style="left:687px;top:516px;width:1px;height:22px;background:rgba(255,255,255,0.637)"></div>
<div class="r" style="left:688px;top:516px;width:1px;height:22px;background:rgba(255,255,255,0.637)"></div>
<div class="r" style="left:309px;top:538px;width:1px;height:23px;background:rgba(255,255,255,0.637)"></div>
<div class="r" style="left:310px;top:538px;width:1px;height:23px;background:rgba(255,255,255,0.637)"></div>
<div class="r" style="left:403px;top:538px;width:1px;height:23px;background:rgba(255,255,255,0.212)"></div>
<div class="r" style="left:404px;top:538px;width:1px;height:23px;background:rgba(255,255,255,0.850)"></div>
<div class="r" style="left:405px;top:538px;width:1px;height:23px;background:rgba(255,255,255,0.212)"></div>
<div class="r" style="left:498px;top:538px;width:1px;height:23px;background:rgba(255,255,255,0.637)"></div>
<div class="r" style="left:499px;top:538px;width:1px;height:23px;background:rgba(255,255,255,0.637)"></div>
<div class="r" style="left:592px;top:538px;width:1px;height:23px;background:rgba(255,255,255,0.212)"></div>
<div class="r" style="left:593px;top:538px;width:1px;height:23px;background:rgba(255,255,255,0.850)"></div>
<div class="r" style="left:594px;top:538px;width:1px;height:23px;background:rgba(255,255,255,0.212)"></div>
<div class="r" style="left:687px;top:538px;width:1px;height:23px;background:rgba(255,255,255,0.637)"></div>
<div class="r" style="left:688px;top:538px;width:1px;height:23px;background:rgba(255,255,255,0.637)"></div>
<div class="r" style="left:309px;top:561px;width:1px;height:23px;background:rgba(255,255,255,0.637)"></div>
<div class="r" style="left:310px;top:561px;width:1px;height:23px;background:rgba(255,255,255,0.637)"></div>
<div class="r" style="left:403px;top:561px;width:1px;height:23px;background:rgba(255,255,255,0.212)"></div>
<div class="r" style="left:404px;top:561px;width:1px;height:23px;background:rgba(255,255,255,0.850)"></div>
<div class="r" style="left:405px;top:561px;width:1px;height:23px;background:rgba(255,255,255,0.212)"></div>
<div class="r" style="left:498px;top:561px;width:1px;height:23px;background:rgba(255,255,255,0.637)"></div>
<div class="r" style="left:499px;top:561px;width:1px;height:23px;background:rgba(255,255,255,0.637)"></div>
<div class="r" style="left:592px;top:561px;width:1px;height:23px;background:rgba(255,255,255,0.212)"></div>
<div class="r" style="left:593px;top:561px;width:1px;height:23px;background:rgba(255,255,255,0.850)"></div>
<div class="r" style="left:594px;top:561px;width:1px;height:23px;background:rgba(255,255,255,0.212)"></div>
<div class="r" style="left:687px;top:561px;width:1px;height:23px;background:rgba(255,255,255,0.637)"></div>
<div class="r" style="left:688px;top:561px;width:1px;height:23px;background:rgba(255,255,255,0.637)"></div>
<div class="r" style="left:309px;top:584px;width:1px;height:27px;background:rgba(255,255,255,0.637)"></div>
<div class="r" style="left:310px;top:584px;width:1px;height:27px;background:rgba(255,255,255,0.637)"></div>
<div class="r" style="left:403px;top:584px;width:1px;height:27px;background:rgba(255,255,255,0.212)"></div>
<div class="r" style="left:404px;top:584px;width:1px;height:27px;background:rgba(255,255,255,0.850)"></div>
<div class="r" style="left:405px;top:584px;width:1px;height:27px;background:rgba(255,255,255,0.212)"></div>
<div class="r" style="left:498px;top:584px;width:1px;height:27px;background:rgba(255,255,255,0.637)"></div>
<div class="r" style="left:499px;top:584px;width:1px;height:27px;background:rgba(255,255,255,0.637)"></div>
<div class="r" style="left:592px;top:584px;width:1px;height:27px;background:rgba(255,255,255,0.212)"></div>
<div class="r" style="left:593px;top:584px;width:1px;height:27px;background:rgba(255,255,255,0.850)"></div>
<div class="r" style="left:594px;top:584px;width:1px;height:27px;background:rgba(255,255,255,0.212)"></div>
<div class="r" style="left:687px;top:584px;width:1px;height:27px;background:rgba(255,255,255,0.637)"></div>
<div class="r" style="left:688px;top:584px;width:1px;height:27px;background:rgba(255,255,255,0.637)"></div>
<div class="r" style="left:214px;top:611px;width:1px;height:23px;background:rgba(255,255,255,0.212)"></div>
<div class="r" style="left:215px;top:611px;width:1px;height:23px;background:rgba(255,255,255,0.850)"></div>
<div class="r" style="left:216px;top:611px;width:1px;height:23px;background:rgba(255,255,255,0.212)"></div>
<div class="r" style="left:214px;top:634px;width:1px;height:24px;background:rgba(255,255,255,0.212)"></div>
<div class="r" style="left:215px;top:634px;width:1px;height:24px;background:rgba(255,255,255,0.850)"></div>
<div class="r" style="left:216px;top:634px;width:1px;height:24px;background:rgba(255,255,255,0.212)"></div>
<div class="r" style="left:309px;top:634px;width:1px;height:24px;background:rgba(255,255,255,0.637)"></div>
<div class="r" style="left:310px;top:634px;width:1px;height:24px;background:rgba(255,255,255,0.637)"></div>
<div class="r" style="left:403px;top:634px;width:1px;height:24px;background:rgba(255,255,255,0.212)"></div>
<div class="r" style="left:404px;top:634px;width:1px;height:24px;background:rgba(255,255,255,0.850)"></div>
<div class="r" style="left:405px;top:634px;width:1px;height:24px;background:rgba(255,255,255,0.212)"></div>
<div class="r" style="left:498px;top:634px;width:1px;height:24px;background:rgba(255,255,255,0.637)"></div>
<div class="r" style="left:499px;top:634px;width:1px;height:24px;background:rgba(255,255,255,0.637)"></div>
<div class="r" style="left:592px;top:634px;width:1px;height:24px;background:rgba(255,255,255,0.212)"></div>
<div class="r" style="left:593px;top:634px;width:1px;height:24px;background:rgba(255,255,255,0.850)"></div>
<div class="r" style="left:594px;top:634px;width:1px;height:24px;background:rgba(255,255,255,0.212)"></div>
<div class="r" style="left:687px;top:634px;width:1px;height:24px;background:rgba(255,255,255,0.637)"></div>
<div class="r" style="left:688px;top:634px;width:1px;height:24px;background:rgba(255,255,255,0.637)"></div>
<div class="r" style="left:214px;top:658px;width:1px;height:22px;background:rgba(255,255,255,0.212)"></div>
<div class="r" style="left:215px;top:658px;width:1px;height:22px;background:rgba(255,255,255,0.850)"></div>
<div class="r" style="left:216px;top:658px;width:1px;height:22px;background:rgba(255,255,255,0.212)"></div>
<div class="r" style="left:309px;top:658px;width:1px;height:22px;background:rgba(255,255,255,0.637)"></div>
<div class="r" style="left:310px;top:658px;width:1px;height:22px;background:rgba(255,255,255,0.637)"></div>
<div class="r" style="left:403px;top:658px;width:1px;height:22px;background:rgba(255,255,255,0.212)"></div>
<div class="r" style="left:404px;top:658px;width:1px;height:22px;background:rgba(255,255,255,0.850)"></div>
<div class="r" style="left:405px;top:658px;width:1px;height:22px;background:rgba(255,255,255,0.212)"></div>
<div class="r" style="left:498px;top:658px;width:1px;height:22px;background:rgba(255,255,255,0.637)"></div>
<div class="r" style="left:499px;top:658px;width:1px;height:22px;background:rgba(255,255,255,0.637)"></div>
<div class="r" style="left:592px;top:658px;width:1px;height:22px;background:rgba(255,255,255,0.212)"></div>
<div class="r" style="left:593px;top:658px;width:1px;height:22px;background:rgba(255,255,255,0.850)"></div>
<div class="r" style="left:594px;top:658px;width:1px;height:22px;background:rgba(255,255,255,0.212)"></div>
<div class="r" style="left:687px;top:658px;width:1px;height:22px;background:rgba(255,255,255,0.637)"></div>
<div class="r" style="left:688px;top:658px;width:1px;height:22px;background:rgba(255,255,255,0.637)"></div>
<div class="r" style="left:214px;top:680px;width:1px;height:23px;background:rgba(255,255,255,0.212)"></div>
<div class="r" style="left:215px;top:680px;width:1px;height:23px;background:rgba(255,255,255,0.850)"></div>
<div class="r" style="left:216px;top:680px;width:1px;height:23px;background:rgba(255,255,255,0.212)"></div>
<div class="r" style="left:309px;top:680px;width:1px;height:23px;background:rgba(255,255,255,0.637)"></div>
<div class="r" style="left:310px;top:680px;width:1px;height:23px;background:rgba(255,255,255,0.637)"></div>
<div class="r" style="left:403px;top:680px;width:1px;height:23px;background:rgba(255,255,255,0.212)"></div>
<div class="r" style="left:404px;top:680px;width:1px;height:23px;background:rgba(255,255,255,0.850)"></div>
<div class="r" style="left:405px;top:680px;width:1px;height:23px;background:rgba(255,255,255,0.212)"></div>
<div class="r" style="left:498px;top:680px;width:1px;height:23px;background:rgba(255,255,255,0.637)"></div>
<div class="r" style="left:499px;top:680px;width:1px;height:23px;background:rgba(255,255,255,0.637)"></div>
<div class="r" style="left:592px;top:680px;width:1px;height:23px;background:rgba(255,255,255,0.212)"></div>
<div class="r" style="left:593px;top:680px;width:1px;height:23px;background:rgba(255,255,255,0.850)"></div>
<div class="r" style="left:594px;top:680px;width:1px;height:23px;background:rgba(255,255,255,0.212)"></div>
<div class="r" style="left:687px;top:680px;width:1px;height:23px;background:rgba(255,255,255,0.637)"></div>
<div class="r" style="left:688px;top:680px;width:1px;height:23px;background:rgba(255,255,255,0.637)"></div>
<div class="r" style="left:214px;top:703px;width:1px;height:23px;background:rgba(255,255,255,0.212)"></div>
<div class="r" style="left:215px;top:703px;width:1px;height:23px;background:rgba(255,255,255,0.850)"></div>
<div class="r" style="left:216px;top:703px;width:1px;height:23px;background:rgba(255,255,255,0.212)"></div>
<div class="r" style="left:309px;top:703px;width:1px;height:23px;background:rgba(255,255,255,0.637)"></div>
<div class="r" style="left:310px;top:703px;width:1px;height:23px;background:rgba(255,255,255,0.637)"></div>
<div class="r" style="left:403px;top:703px;width:1px;height:23px;background:rgba(255,255,255,0.212)"></div>
<div class="r" style="left:404px;top:703px;width:1px;height:23px;background:rgba(255,255,255,0.850)"></div>
<div class="r" style="left:405px;top:703px;width:1px;height:23px;background:rgba(255,255,255,0.212)"></div>
<div class="r" style="left:498px;top:703px;width:1px;height:23px;background:rgba(255,255,255,0.637)"></div>
<div class="r" style="left:499px;top:703px;width:1px;height:23px;background:rgba(255,255,255,0.637)"></div>
<div class="r" style="left:592px;top:703px;width:1px;height:23px;background:rgba(255,255,255,0.212)"></div>
<div class="r" style="left:593px;top:703px;width:1px;height:23px;background:rgba(255,255,255,0.850)"></div>
<div class="r" style="left:594px;top:703px;width:1px;height:23px;background:rgba(255,255,255,0.212)"></div>
<div class="r" style="left:687px;top:703px;width:1px;height:23px;background:rgba(255,255,255,0.637)"></div>
<div class="r" style="left:688px;top:703px;width:1px;height:23px;background:rgba(255,255,255,0.637)"></div>
<div class="r" style="left:214px;top:726px;width:1px;height:23px;background:rgba(255,255,255,0.212)"></div>
<div class="r" style="left:215px;top:726px;width:1px;height:23px;background:rgba(255,255,255,0.850)"></div>
<div class="r" style="left:216px;top:726px;width:1px;height:23px;background:rgba(255,255,255,0.212)"></div>
<div class="r" style="left:309px;top:726px;width:1px;height:23px;background:rgba(255,255,255,0.637)"></div>
<div class="r" style="left:310px;top:726px;width:1px;height:23px;background:rgba(255,255,255,0.637)"></div>
<div class="r" style="left:403px;top:726px;width:1px;height:23px;background:rgba(255,255,255,0.212)"></div>
<div class="r" style="left:404px;top:726px;width:1px;height:23px;background:rgba(255,255,255,0.850)"></div>
<div class="r" style="left:405px;top:726px;width:1px;height:23px;background:rgba(255,255,255,0.212)"></div>
<div class="r" style="left:498px;top:726px;width:1px;height:23px;background:rgba(255,255,255,0.637)"></div>
<div class="r" style="left:499px;top:726px;width:1px;height:23px;background:rgba(255,255,255,0.637)"></div>
<div class="r" style="left:592px;top:726px;width:1px;height:23px;background:rgba(255,255,255,0.212)"></div>
<div class="r" style="left:593px;top:726px;width:1px;height:23px;background:rgba(255,255,255,0.850)"></div>
<div class="r" style="left:594px;top:726px;width:1px;height:23px;background:rgba(255,255,255,0.212)"></div>
<div class="r" style="left:687px;top:726px;width:1px;height:23px;background:rgba(255,255,255,0.637)"></div>
<div class="r" style="left:688px;top:726px;width:1px;height:23px;background:rgba(255,255,255,0.637)"></div>
<div class="r" style="left:214px;top:749px;width:1px;height:23px;background:rgba(255,255,255,0.212)"></div>
<div class="r" style="left:215px;top:749px;width:1px;height:23px;background:rgba(255,255,255,0.850)"></div>
<div class="r" style="left:216px;top:749px;width:1px;height:23px;background:rgba(255,255,255,0.212)"></div>
<div class="r" style="left:214px;top:772px;width:1px;height:23px;background:rgba(255,255,255,0.212)"></div>
<div class="r" style="left:215px;top:772px;width:1px;height:23px;background:rgba(255,255,255,0.850)"></div>
<div class="r" style="left:216px;top:772px;width:1px;height:23px;background:rgba(255,255,255,0.212)"></div>
<div class="r" style="left:214px;top:8px;width:1px;height:28px;background:rgba(255,255,255,0.225)"></div>
<div class="r" style="left:215px;top:8px;width:1px;height:28px;background:rgba(255,255,255,0.900)"></div>
<div class="r" style="left:216px;top:8px;width:1px;height:28px;background:rgba(255,255,255,0.225)"></div>
<div class="r" style="left:309px;top:8px;width:1px;height:28px;background:rgba(255,255,255,0.675)"></div>
<div class="r" style="left:310px;top:8px;width:1px;height:28px;background:rgba(255,255,255,0.675)"></div>
<div class="r" style="left:403px;top:8px;width:1px;height:28px;background:rgba(255,255,255,0.225)"></div>
<div class="r" style="left:404px;top:8px;width:1px;height:28px;background:rgba(255,255,255,0.900)"></div>
<div class="r" style="left:405px;top:8px;width:1px;height:28px;background:rgba(255,255,255,0.225)"></div>
<div class="r" style="left:498px;top:8px;width:1px;height:28px;background:rgba(255,255,255,0.675)"></div>
<div class="r" style="left:499px;top:8px;width:1px;height:28px;background:rgba(255,255,255,0.675)"></div>
<div class="r" style="left:592px;top:8px;width:1px;height:28px;background:rgba(255,255,255,0.225)"></div>
<div class="r" style="left:593px;top:8px;width:1px;height:28px;background:rgba(255,255,255,0.900)"></div>
<div class="r" style="left:594px;top:8px;width:1px;height:28px;background:rgba(255,255,255,0.225)"></div>
<div class="r" style="left:687px;top:8px;width:1px;height:28px;background:rgba(255,255,255,0.675)"></div>
<div class="r" style="left:688px;top:8px;width:1px;height:28px;background:rgba(255,255,255,0.675)"></div>
<div class="t" style="left:31.45px;top:14.20px;transform:scaleX(1.0591);font-family:'Liberation Sans',sans-serif;font-weight:bold;font-size:15px;color:#ffffff">The parameter name</div>
<div class="t" style="left:242.01px;top:11.67px;font-family:'Liberation Sans',sans-serif;font-weight:normal;font-size:10.2px;color:#fdf3f3;letter-spacing:0.1px">VLC3.9S</div>
<div class="t" style="left:233.14px;top:24.24px;font-family:'Liberation Sans',sans-serif;font-weight:normal;font-size:10.0px;color:#fdf3f3;letter-spacing:0.33px">(G19-16L/H)</div>
<div class="t" style="left:340.86px;top:11.67px;font-family:'Liberation Sans',sans-serif;font-weight:normal;font-size:10.2px;color:#fdf3f3;letter-spacing:0.1px">VLC6S</div>
<div class="t" style="left:330.59px;top:24.24px;font-family:'Liberation Sans',sans-serif;font-weight:normal;font-size:10.0px;color:#fdf3f3;letter-spacing:0.33px">(G27-5L/H)</div>
<div class="t" style="left:435.36px;top:11.67px;font-family:'Liberation Sans',sans-serif;font-weight:normal;font-size:10.2px;color:#fdf3f3;letter-spacing:0.1px">VLC8S</div>
<div class="t" style="left:425.09px;top:24.24px;font-family:'Liberation Sans',sans-serif;font-weight:normal;font-size:10.0px;color:#fdf3f3;letter-spacing:0.33px">(G27-3L/H)</div>
<div class="t" style="left:526.98px;top:11.67px;font-family:'Liberation Sans',sans-serif;font-weight:normal;font-size:10.2px;color:#fdf3f3;letter-spacing:0.1px">VLC10S</div>
<div class="t" style="left:519.59px;top:24.24px;font-family:'Liberation Sans',sans-serif;font-weight:normal;font-size:10.0px;color:#fdf3f3;letter-spacing:0.33px">(G27-2L/H)</div>
<div class="t" style="left:621.48px;top:11.67px;font-family:'Liberation Sans',sans-serif;font-weight:normal;font-size:10.2px;color:#fdf3f3;letter-spacing:0.1px">VLC10A</div>
<div class="t" style="left:614.09px;top:24.24px;font-family:'Liberation Sans',sans-serif;font-weight:normal;font-size:10.0px;color:#fdf3f3;letter-spacing:0.33px">(G34-4L/H)</div>
<div class="t" style="left:715.73px;top:11.67px;font-family:'Liberation Sans',sans-serif;font-weight:normal;font-size:10.2px;color:#fdf3f3;letter-spacing:0.1px">VLC16A</div>
<div class="t" style="left:708.34px;top:24.24px;font-family:'Liberation Sans',sans-serif;font-weight:normal;font-size:10.0px;color:#fdf3f3;letter-spacing:0.33px">(G34-4L/H)</div>
<div class="t" style="left:398.18px;top:30.55px;transform:scaleX(1.0180);font-family:'Liberation Sans',sans-serif;font-weight:bold;font-size:3.6px;color:#f3b5b5">The parameter name</div>
<div class="t" style="left:16.18px;top:92.14px;font-family:'Liberation Sans',sans-serif;font-weight:bold;font-size:12px;color:#2b2b2b">Module</div>
<div class="t" style="left:22.18px;top:223.04px;font-family:'Liberation Sans',sans-serif;font-weight:bold;font-size:12px;color:#2b2b2b">Units</div>
<div class="t" style="left:11.94px;top:412.48px;transform:scaleX(1.0362);font-family:'Liberation Sans',sans-serif;font-weight:bold;font-size:9px;color:#333">Optical</div>
<div class="t" style="left:11.95px;top:423.68px;transform:scaleX(1.0221);font-family:'Liberation Sans',sans-serif;font-weight:bold;font-size:9px;color:#333">parameters</div>
<div class="t" style="left:4.10px;top:564.19px;transform:scaleX(1.0327);font-family:'Liberation Sans',sans-serif;font-weight:bold;font-size:9.7px;color:#333">Electrical</div>
<div class="t" style="left:4.10px;top:575.49px;transform:scaleX(1.0238);font-family:'Liberation Sans',sans-serif;font-weight:bold;font-size:9.7px;color:#333">parameters</div>
<div class="t" style="left:4.17px;top:638.14px;transform:scaleX(1.0175);font-family:'Liberation Sans',sans-serif;font-weight:bold;font-size:8.7px;color:#333">Processing</div>
<div class="t" style="left:4.17px;top:648.64px;transform:scaleX(1.0194);font-family:'Liberation Sans',sans-serif;font-weight:bold;font-size:8.7px;color:#333">performance</div>
<div class="t" style="left:5.08px;top:728.43px;transform:scaleX(1.0346);font-family:'Liberation Sans',sans-serif;font-weight:bold;font-size:10px;color:#2b2b2b">Using</div>
<div class="t" style="left:5.08px;top:740.24px;transform:scaleX(1.0390);font-family:'Liberation Sans',sans-serif;font-weight:bold;font-size:10px;color:#2b2b2b">parameter</div>
<div class="t" style="left:93.03px;top:41.09px;transform:scaleX(0.9947);font-family:'Liberation Sans',sans-serif;font-weight:bold;font-size:12px;color:#2b2b2b">Pixel structure</div>
<div class="t" style="left:96.88px;top:63.64px;font-family:'Liberation Sans',sans-serif;font-weight:bold;font-size:12px;color:#2b2b2b">Pixel pitch(mm)</div>
<div class="t" style="left:66.68px;top:86.69px;transform:scaleX(1.0056);font-family:'Liberation Sans',sans-serif;font-weight:bold;font-size:12px;color:#2b2b2b">Module resolution(W*H)</div>
<div class="t" style="left:63.08px;top:109.74px;font-family:'Liberation Sans',sans-serif;font-weight:bold;font-size:12px;color:#2b2b2b">Module size(mm)(W*H*D)</div>
<div class="t" style="left:81.78px;top:132.59px;transform:scaleX(1.0059);font-family:'Liberation Sans',sans-serif;font-weight:bold;font-size:12px;color:#2b2b2b">Module weight(kg)</div>
<div class="t" style="left:85.88px;top:155.34px;font-family:'Liberation Sans',sans-serif;font-weight:bold;font-size:12px;color:#2b2b2b">Unit module(W*H)</div>
<div class="t" style="left:78.18px;top:177.99px;font-family:'Liberation Sans',sans-serif;font-weight:bold;font-size:12px;color:#2b2b2b">Unit resolution(W*H)</div>
<div class="t" style="left:76.88px;top:200.64px;font-family:'Liberation Sans',sans-serif;font-weight:bold;font-size:12px;color:#2b2b2b">Unit size(mm)(W*H*D)</div>
<div class="t" style="left:86.78px;top:223.29px;font-family:'Liberation Sans',sans-serif;font-weight:bold;font-size:12px;color:#2b2b2b">The unit area(<span style="font-family:'Liberation Serif';font-weight:normal">m</span><span style="font-family:'Liberation Serif';font-weight:normal;font-size:0.5em;vertical-align:0.7em">2</span>)</div>
<div class="t" style="left:79.08px;top:245.99px;font-family:'Liberation Sans',sans-serif;font-weight:bold;font-size:12px;color:#2b2b2b">Normal weight(kg/<span style="font-family:'Liberation Serif';font-weight:normal">m</span><span style="font-family:'Liberation Serif';font-weight:normal;font-size:0.5em;vertical-align:0.7em">2</span>)</div>
<div class="t" style="left:74.88px;top:268.99px;font-family:'Liberation Sans',sans-serif;font-weight:bold;font-size:12px;color:#2b2b2b">Pixel density(point/<span style="font-family:'Liberation Serif';font-weight:normal">m</span><span style="font-family:'Liberation Serif';font-weight:normal;font-size:0.5em;vertical-align:0.7em">2</span>)</div>
<div class="t" style="left:74.08px;top:292.24px;font-family:'Liberation Sans',sans-serif;font-weight:bold;font-size:12px;color:#2b2b2b">Enclosure flatness(mm)</div>
<div class="t" style="left:74.99px;top:311.54px;transform:scaleX(1.0103);font-family:'Liberation Sans',sans-serif;font-weight:bold;font-size:10px;color:#333">A single point of brightness</div>
<div class="t" style="left:74.99px;top:323.34px;transform:scaleX(1.0208);font-family:'Liberation Sans',sans-serif;font-weight:bold;font-size:10px;color:#333">correction</div>
<div class="t" style="left:84.11px;top:334.54px;transform:scaleX(0.9864);font-family:'Liberation Sans',sans-serif;font-weight:bold;font-size:10px;color:#333">A single point of colour</div>
<div class="t" style="left:84.14px;top:346.34px;transform:scaleX(0.9349);font-family:'Liberation Sans',sans-serif;font-weight:bold;font-size:10px;color:#333">correction</div>
<div class="t" style="left:78.56px;top:355.51px;transform:scaleX(1.0105);font-family:'Liberation Sans',sans-serif;font-weight:normal;font-size:10.5px;color:#2b2b2b;-webkit-text-stroke:0.18px #2b2b2b">The intensity of the white</div>
<div class="t" style="left:78.57px;top:367.11px;font-family:'Liberation Sans',sans-serif;font-weight:normal;font-size:10.5px;color:#2b2b2b;-webkit-text-stroke:0.18px #2b2b2b">balance (nits) (adjusted)</div>
<div class="t" style="left:76.88px;top:383.84px;font-family:'Liberation Sans',sans-serif;font-weight:bold;font-size:12px;color:#2b2b2b">Color temperature(K)</div>
<div class="t" style="left:63.88px;top:407.29px;font-family:'Liberation Sans',sans-serif;font-weight:bold;font-size:12px;color:#2b2b2b">Horizontal Angle of view(°)</div>
<div class="t" style="left:63.08px;top:429.99px;transform:scaleX(0.9931);font-family:'Liberation Sans',sans-serif;font-weight:bold;font-size:12px;color:#2b2b2b">The vertical Angle of view(°)</div>
<div class="t" style="left:86.87px;top:448.11px;font-family:'Liberation Sans',sans-serif;font-weight:normal;font-size:10.5px;color:#2b2b2b;-webkit-text-stroke:0.18px #2b2b2b">Markers center distance</div>
<div class="t" style="left:86.86px;top:458.61px;transform:scaleX(1.0102);font-family:'Liberation Sans',sans-serif;font-weight:normal;font-size:10.5px;color:#2b2b2b;-webkit-text-stroke:0.18px #2b2b2b">deviation (adjusted)</div>
<div class="t" style="left:49.63px;top:476.39px;transform:scaleX(0.9282);font-family:'Liberation Sans',sans-serif;font-weight:bold;font-size:12px;color:#2b2b2b">Brightness uniformity (adjusted)</div>
<div class="t" style="left:61.98px;top:499.09px;font-family:'Liberation Sans',sans-serif;font-weight:bold;font-size:12px;color:#2b2b2b">Color uniformity (adjusted)</div>
<div class="t" style="left:110.67px;top:521.79px;transform:scaleX(1.0145);font-family:'Liberation Sans',sans-serif;font-weight:bold;font-size:12px;color:#2b2b2b">Contrast</div>
<div class="t" style="left:59.78px;top:544.44px;font-family:'Liberation Sans',sans-serif;font-weight:bold;font-size:12px;color:#2b2b2b">Peak power consumption(W/<span style="font-family:'Liberation Serif';font-weight:normal">m</span><span style="font-family:'Liberation Serif';font-weight:normal;font-size:0.5em;vertical-align:0.7em">2</span>)</div>
<div class="t" style="left:63.78px;top:566.04px;font-family:'Liberation Sans',sans-serif;font-weight:bold;font-size:12px;color:#2b2b2b">Peak power consumption(W/<span style="font-family:'Liberation Serif';font-weight:normal">m</span><span style="font-family:'Liberation Serif';font-weight:normal;font-size:0.5em;vertical-align:0.7em">2</span>)</div>
<div class="t" style="left:53.57px;top:589.62px;transform:scaleX(0.9800);font-family:'Liberation Sans',sans-serif;font-weight:bold;font-size:11.5px;color:#2b2b2b">The power supply requirements</div>
<div class="t" style="left:106.77px;top:616.89px;transform:scaleX(1.0072);font-family:'Liberation Sans',sans-serif;font-weight:bold;font-size:12px;color:#2b2b2b">Drive way</div>
<div class="t" style="left:66.28px;top:640.14px;font-family:'Liberation Sans',sans-serif;font-weight:bold;font-size:12px;color:#2b2b2b">In the frame frequency</div>
<div class="t" style="left:200.06px;top:641.29px;transform:scaleX(1.2756);font-family:'Liberation Sans',sans-serif;font-weight:normal;font-size:11px;color:#6a6a6a">(</div>
<div class="t" style="left:206.41px;top:641.41px;transform:scaleX(1.2604);font-family:'Liberation Sans',sans-serif;font-weight:normal;font-size:10.5px;color:#4a4a4a;-webkit-text-stroke:0.18px #4a4a4a">Hz</div>
<div class="t" style="left:223.56px;top:641.29px;transform:scaleX(1.2756);font-family:'Liberation Sans',sans-serif;font-weight:normal;font-size:11px;color:#6a6a6a">)</div>
<div class="t" style="left:75.03px;top:663.24px;font-family:'Liberation Sans',sans-serif;font-weight:bold;font-size:12px;color:#2b2b2b">The refresh rate</div>
<div class="t" style="left:169.76px;top:664.39px;transform:scaleX(1.2756);font-family:'Liberation Sans',sans-serif;font-weight:normal;font-size:11px;color:#6a6a6a">(</div>
<div class="t" style="left:176.84px;top:663.24px;transform:scaleX(1.0581);font-family:'Liberation Sans',sans-serif;font-weight:bold;font-size:12px;color:#2b2b2b">Hz</div>
<div class="t" style="left:193.46px;top:664.39px;transform:scaleX(1.2756);font-family:'Liberation Sans',sans-serif;font-weight:normal;font-size:11px;color:#6a6a6a">)</div>
<div class="t" style="left:69.28px;top:685.99px;font-family:'Liberation Sans',sans-serif;font-weight:bold;font-size:12px;color:#2b2b2b">Typical values life(hrs)</div>
<div class="t" style="left:58.83px;top:710.32px;transform:scaleX(0.9658);font-family:'Liberation Sans',sans-serif;font-weight:bold;font-size:11.5px;color:#2b2b2b">Working temperature range</div>
<div class="t" style="left:208.46px;top:711.04px;transform:scaleX(1.2756);font-family:'Liberation Sans',sans-serif;font-weight:normal;font-size:11px;color:#6a6a6a">(</div>
<div class="t" style="left:215.06px;top:711.16px;transform:scaleX(0.8541);font-family:'Liberation Sans',sans-serif;font-weight:normal;font-size:10.5px;color:#4a4a4a;-webkit-text-stroke:0.18px #4a4a4a">°C</div>
<div class="t" style="left:227.06px;top:711.04px;transform:scaleX(1.2756);font-family:'Liberation Sans',sans-serif;font-weight:normal;font-size:11px;color:#6a6a6a">)</div>
<div class="t" style="left:59.84px;top:733.37px;transform:scaleX(0.9593);font-family:'Liberation Sans',sans-serif;font-weight:bold;font-size:11.5px;color:#2b2b2b">Storage temperature range</div>
<div class="t" style="left:205.66px;top:734.09px;transform:scaleX(1.2756);font-family:'Liberation Sans',sans-serif;font-weight:normal;font-size:11px;color:#6a6a6a">(</div>
<div class="t" style="left:213.00px;top:734.21px;transform:scaleX(0.7877);font-family:'Liberation Sans',sans-serif;font-weight:normal;font-size:10.5px;color:#4a4a4a;-webkit-text-stroke:0.18px #4a4a4a">°C</div>
<div class="t" style="left:224.26px;top:734.09px;transform:scaleX(1.2756);font-family:'Liberation Sans',sans-serif;font-weight:normal;font-size:11px;color:#6a6a6a">)</div>
<div class="t" style="left:64.31px;top:756.32px;font-family:'Liberation Sans',sans-serif;font-weight:bold;font-size:11.5px;color:#2b2b2b">Working humidity range</div>
<div class="t" style="left:201.14px;top:757.04px;transform:scaleX(1.1480);font-family:'Liberation Sans',sans-serif;font-weight:normal;font-size:11px;color:#6a6a6a">(</div>
<div class="t" style="left:207.06px;top:758.01px;transform:scaleX(0.9450);font-family:'Liberation Serif',sans-serif;font-weight:normal;font-size:9.5px;color:#4a4a4a;-webkit-text-stroke:0.18px #4a4a4a">RH</div>
<div class="t" style="left:220.36px;top:757.04px;transform:scaleX(1.2756);font-family:'Liberation Sans',sans-serif;font-weight:normal;font-size:11px;color:#6a6a6a">)</div>
<div class="t" style="left:62.53px;top:778.22px;transform:scaleX(1.0431);font-family:'Liberation Sans',sans-serif;font-weight:bold;font-size:11.5px;color:#2b2b2b">Store humidity range</div>
<div class="t" style="left:188.07px;top:778.94px;transform:scaleX(1.1055);font-family:'Liberation Sans',sans-serif;font-weight:normal;font-size:11px;color:#6a6a6a">(</div>
<div class="t" style="left:194.47px;top:779.91px;transform:scaleX(0.9367);font-family:'Liberation Serif',sans-serif;font-weight:normal;font-size:9.5px;color:#4a4a4a;-webkit-text-stroke:0.18px #4a4a4a">RH</div>
<div class="t" style="left:208.16px;top:778.94px;transform:scaleX(1.2756);font-family:'Liberation Sans',sans-serif;font-weight:normal;font-size:11px;color:#6a6a6a">)</div>
<div class="t" style="left:252.53px;top:65.21px;font-family:'Liberation Sans',sans-serif;font-weight:normal;font-size:10.5px;color:#303030;-webkit-text-stroke:0.18px #303030">3.91</div>
<div class="t" style="left:347.03px;top:65.21px;font-family:'Liberation Sans',sans-serif;font-weight:normal;font-size:10.5px;color:#303030;-webkit-text-stroke:0.18px #303030">6.25</div>
<div class="t" style="left:438.61px;top:65.21px;font-family:'Liberation Sans',sans-serif;font-weight:normal;font-size:10.5px;color:#303030;-webkit-text-stroke:0.18px #303030">8.333</div>
<div class="t" style="left:530.19px;top:65.21px;font-family:'Liberation Sans',sans-serif;font-weight:normal;font-size:10.5px;color:#303030;-webkit-text-stroke:0.18px #303030">10.417</div>
<div class="t" style="left:634.91px;top:65.21px;font-family:'Liberation Sans',sans-serif;font-weight:normal;font-size:10.5px;color:#303030;-webkit-text-stroke:0.18px #303030">10</div>
<div class="t" style="left:729.16px;top:65.21px;font-family:'Liberation Sans',sans-serif;font-weight:normal;font-size:10.5px;color:#303030;-webkit-text-stroke:0.18px #303030">16</div>
<div class="t" style="left:248.45px;top:88.26px;font-family:'Liberation Sans',sans-serif;font-weight:normal;font-size:10.5px;color:#303030;-webkit-text-stroke:0.18px #303030">64x64</div>
<div class="t" style="left:342.95px;top:88.26px;font-family:'Liberation Sans',sans-serif;font-weight:normal;font-size:10.5px;color:#303030;-webkit-text-stroke:0.18px #303030">40x40</div>
<div class="t" style="left:437.45px;top:88.26px;font-family:'Liberation Sans',sans-serif;font-weight:normal;font-size:10.5px;color:#303030;-webkit-text-stroke:0.18px #303030">30x30</div>
<div class="t" style="left:531.95px;top:88.26px;font-family:'Liberation Sans',sans-serif;font-weight:normal;font-size:10.5px;color:#303030;-webkit-text-stroke:0.18px #303030">24x24</div>
<div class="t" style="left:626.45px;top:88.26px;font-family:'Liberation Sans',sans-serif;font-weight:normal;font-size:10.5px;color:#303030;-webkit-text-stroke:0.18px #303030">32x32</div>
<div class="t" style="left:720.70px;top:88.26px;font-family:'Liberation Sans',sans-serif;font-weight:normal;font-size:10.5px;color:#303030;-webkit-text-stroke:0.18px #303030">20x20</div>
<div class="t" style="left:234.14px;top:111.31px;font-family:'Liberation Sans',sans-serif;font-weight:normal;font-size:10.5px;color:#303030;-webkit-text-stroke:0.18px #303030">250x250x17</div>
<div class="t" style="left:328.64px;top:111.31px;font-family:'Liberation Sans',sans-serif;font-weight:normal;font-size:10.5px;color:#303030;-webkit-text-stroke:0.18px #303030">250x250x17</div>
<div class="t" style="left:423.14px;top:111.31px;font-family:'Liberation Sans',sans-serif;font-weight:normal;font-size:10.5px;color:#303030;-webkit-text-stroke:0.18px #303030">250x250x17</div>
<div class="t" style="left:517.64px;top:111.31px;font-family:'Liberation Sans',sans-serif;font-weight:normal;font-size:10.5px;color:#303030;-webkit-text-stroke:0.18px #303030">250x250x17</div>
<div class="t" style="left:612.14px;top:111.31px;font-family:'Liberation Sans',sans-serif;font-weight:normal;font-size:10.5px;color:#303030;-webkit-text-stroke:0.18px #303030">320x320x17</div>
<div class="t" style="left:706.39px;top:111.31px;font-family:'Liberation Sans',sans-serif;font-weight:normal;font-size:10.5px;color:#303030;-webkit-text-stroke:0.18px #303030">320x320x17</div>
<div class="t" style="left:252.53px;top:134.16px;font-family:'Liberation Sans',sans-serif;font-weight:normal;font-size:10.5px;color:#303030;-webkit-text-stroke:0.18px #303030">0.62</div>
<div class="t" style="left:347.03px;top:134.16px;font-family:'Liberation Sans',sans-serif;font-weight:normal;font-size:10.5px;color:#303030;-webkit-text-stroke:0.18px #303030">0.62</div>
<div class="t" style="left:441.53px;top:134.16px;font-family:'Liberation Sans',sans-serif;font-weight:normal;font-size:10.5px;color:#303030;-webkit-text-stroke:0.18px #303030">0.62</div>
<div class="t" style="left:536.03px;top:134.16px;font-family:'Liberation Sans',sans-serif;font-weight:normal;font-size:10.5px;color:#303030;-webkit-text-stroke:0.18px #303030">0.62</div>
<div class="t" style="left:630.53px;top:134.16px;font-family:'Liberation Sans',sans-serif;font-weight:normal;font-size:10.5px;color:#303030;-webkit-text-stroke:0.18px #303030">0.62</div>
<div class="t" style="left:724.78px;top:134.16px;font-family:'Liberation Sans',sans-serif;font-weight:normal;font-size:10.5px;color:#303030;-webkit-text-stroke:0.18px #303030">0.62</div>
<div class="t" style="left:254.28px;top:156.91px;font-family:'Liberation Sans',sans-serif;font-weight:normal;font-size:10.5px;color:#303030;-webkit-text-stroke:0.18px #303030">2x2</div>
<div class="t" style="left:348.78px;top:156.91px;font-family:'Liberation Sans',sans-serif;font-weight:normal;font-size:10.5px;color:#303030;-webkit-text-stroke:0.18px #303030">2x2</div>
<div class="t" style="left:443.28px;top:156.91px;font-family:'Liberation Sans',sans-serif;font-weight:normal;font-size:10.5px;color:#303030;-webkit-text-stroke:0.18px #303030">2x2</div>
<div class="t" style="left:537.78px;top:156.91px;font-family:'Liberation Sans',sans-serif;font-weight:normal;font-size:10.5px;color:#303030;-webkit-text-stroke:0.18px #303030">2x2</div>
<div class="t" style="left:632.28px;top:156.91px;font-family:'Liberation Sans',sans-serif;font-weight:normal;font-size:10.5px;color:#303030;-webkit-text-stroke:0.18px #303030">3x3</div>
<div class="t" style="left:726.53px;top:156.91px;font-family:'Liberation Sans',sans-serif;font-weight:normal;font-size:10.5px;color:#303030;-webkit-text-stroke:0.18px #303030">3x3</div>
<div class="t" style="left:242.60px;top:179.56px;font-family:'Liberation Sans',sans-serif;font-weight:normal;font-size:10.5px;color:#303030;-webkit-text-stroke:0.18px #303030">128x128</div>
<div class="t" style="left:342.95px;top:179.56px;font-family:'Liberation Sans',sans-serif;font-weight:normal;font-size:10.5px;color:#303030;-webkit-text-stroke:0.18px #303030">80x80</div>
<div class="t" style="left:437.45px;top:179.56px;font-family:'Liberation Sans',sans-serif;font-weight:normal;font-size:10.5px;color:#303030;-webkit-text-stroke:0.18px #303030">60x60</div>
<div class="t" style="left:531.95px;top:179.56px;font-family:'Liberation Sans',sans-serif;font-weight:normal;font-size:10.5px;color:#303030;-webkit-text-stroke:0.18px #303030">48x48</div>
<div class="t" style="left:626.45px;top:179.56px;font-family:'Liberation Sans',sans-serif;font-weight:normal;font-size:10.5px;color:#303030;-webkit-text-stroke:0.18px #303030">96x96</div>
<div class="t" style="left:720.70px;top:179.56px;font-family:'Liberation Sans',sans-serif;font-weight:normal;font-size:10.5px;color:#303030;-webkit-text-stroke:0.18px #303030">60x60</div>
<div class="t" style="left:234.14px;top:202.21px;font-family:'Liberation Sans',sans-serif;font-weight:normal;font-size:10.5px;color:#303030;-webkit-text-stroke:0.18px #303030">500x500x77</div>
<div class="t" style="left:328.64px;top:202.21px;font-family:'Liberation Sans',sans-serif;font-weight:normal;font-size:10.5px;color:#303030;-webkit-text-stroke:0.18px #303030">500x500x77</div>
<div class="t" style="left:423.14px;top:202.21px;font-family:'Liberation Sans',sans-serif;font-weight:normal;font-size:10.5px;color:#303030;-webkit-text-stroke:0.18px #303030">500x500x77</div>
<div class="t" style="left:517.64px;top:202.21px;font-family:'Liberation Sans',sans-serif;font-weight:normal;font-size:10.5px;color:#303030;-webkit-text-stroke:0.18px #303030">500x500x77</div>
<div class="t" style="left:609.22px;top:202.21px;font-family:'Liberation Sans',sans-serif;font-weight:normal;font-size:10.5px;color:#303030;-webkit-text-stroke:0.18px #303030">960x960x108</div>
<div class="t" style="left:703.47px;top:202.21px;font-family:'Liberation Sans',sans-serif;font-weight:normal;font-size:10.5px;color:#303030;-webkit-text-stroke:0.18px #303030">960x960x108</div>
<div class="t" style="left:252.53px;top:224.86px;font-family:'Liberation Sans',sans-serif;font-weight:normal;font-size:10.5px;color:#303030;-webkit-text-stroke:0.18px #303030">0.25</div>
<div class="t" style="left:347.03px;top:224.86px;font-family:'Liberation Sans',sans-serif;font-weight:normal;font-size:10.5px;color:#303030;-webkit-text-stroke:0.18px #303030">0.25</div>
<div class="t" style="left:441.53px;top:224.86px;font-family:'Liberation Sans',sans-serif;font-weight:normal;font-size:10.5px;color:#303030;-webkit-text-stroke:0.18px #303030">0.25</div>
<div class="t" style="left:536.03px;top:224.86px;font-family:'Liberation Sans',sans-serif;font-weight:normal;font-size:10.5px;color:#303030;-webkit-text-stroke:0.18px #303030">0.25</div>
<div class="t" style="left:624.69px;top:224.86px;font-family:'Liberation Sans',sans-serif;font-weight:normal;font-size:10.5px;color:#303030;-webkit-text-stroke:0.18px #303030">0.9216</div>
<div class="t" style="left:718.94px;top:224.86px;font-family:'Liberation Sans',sans-serif;font-weight:normal;font-size:10.5px;color:#303030;-webkit-text-stroke:0.18px #303030">0.9216</div>
<div class="t" style="left:256.91px;top:247.56px;font-family:'Liberation Sans',sans-serif;font-weight:normal;font-size:10.5px;color:#303030;-webkit-text-stroke:0.18px #303030">28</div>
<div class="t" style="left:351.41px;top:247.56px;font-family:'Liberation Sans',sans-serif;font-weight:normal;font-size:10.5px;color:#303030;-webkit-text-stroke:0.18px #303030">28</div>
<div class="t" style="left:445.91px;top:247.56px;font-family:'Liberation Sans',sans-serif;font-weight:normal;font-size:10.5px;color:#303030;-webkit-text-stroke:0.18px #303030">28</div>
<div class="t" style="left:540.41px;top:247.56px;font-family:'Liberation Sans',sans-serif;font-weight:normal;font-size:10.5px;color:#303030;-webkit-text-stroke:0.18px #303030">28</div>
<div class="t" style="left:634.91px;top:247.56px;font-family:'Liberation Sans',sans-serif;font-weight:normal;font-size:10.5px;color:#303030;-webkit-text-stroke:0.18px #303030">28</div>
<div class="t" style="left:729.16px;top:247.56px;font-family:'Liberation Sans',sans-serif;font-weight:normal;font-size:10.5px;color:#303030;-webkit-text-stroke:0.18px #303030">28</div>
<div class="t" style="left:248.15px;top:270.56px;font-family:'Liberation Sans',sans-serif;font-weight:normal;font-size:10.5px;color:#303030;-webkit-text-stroke:0.18px #303030">65536</div>
<div class="t" style="left:342.65px;top:270.56px;font-family:'Liberation Sans',sans-serif;font-weight:normal;font-size:10.5px;color:#303030;-webkit-text-stroke:0.18px #303030">25600</div>
<div class="t" style="left:437.15px;top:270.56px;font-family:'Liberation Sans',sans-serif;font-weight:normal;font-size:10.5px;color:#303030;-webkit-text-stroke:0.18px #303030">14400</div>
<div class="t" style="left:534.57px;top:270.56px;font-family:'Liberation Sans',sans-serif;font-weight:normal;font-size:10.5px;color:#303030;-webkit-text-stroke:0.18px #303030">9216</div>
<div class="t" style="left:626.15px;top:270.56px;font-family:'Liberation Sans',sans-serif;font-weight:normal;font-size:10.5px;color:#303030;-webkit-text-stroke:0.18px #303030">10000</div>
<div class="t" style="left:723.32px;top:270.56px;font-family:'Liberation Sans',sans-serif;font-weight:normal;font-size:10.5px;color:#303030;-webkit-text-stroke:0.18px #303030">3906</div>
<div class="t" style="left:255.45px;top:293.81px;font-family:'Liberation Sans',sans-serif;font-weight:normal;font-size:10.5px;color:#303030;-webkit-text-stroke:0.18px #303030">0.5</div>
<div class="t" style="left:349.95px;top:293.81px;font-family:'Liberation Sans',sans-serif;font-weight:normal;font-size:10.5px;color:#303030;-webkit-text-stroke:0.18px #303030">0.5</div>
<div class="t" style="left:444.45px;top:293.81px;font-family:'Liberation Sans',sans-serif;font-weight:normal;font-size:10.5px;color:#303030;-webkit-text-stroke:0.18px #303030">0.5</div>
<div class="t" style="left:538.95px;top:293.81px;font-family:'Liberation Sans',sans-serif;font-weight:normal;font-size:10.5px;color:#303030;-webkit-text-stroke:0.18px #303030">0.5</div>
<div class="t" style="left:633.45px;top:293.81px;font-family:'Liberation Sans',sans-serif;font-weight:normal;font-size:10.5px;color:#303030;-webkit-text-stroke:0.18px #303030">0.5</div>
<div class="t" style="left:727.70px;top:293.81px;font-family:'Liberation Sans',sans-serif;font-weight:normal;font-size:10.5px;color:#303030;-webkit-text-stroke:0.18px #303030">0.5</div>
<div class="t" style="left:248.50px;top:315.97px;font-family:'Liberation Sans',sans-serif;font-weight:bold;font-size:12.5px;color:#2b2b2b">have</div>
<div class="t" style="left:343.00px;top:315.97px;font-family:'Liberation Sans',sans-serif;font-weight:bold;font-size:12.5px;color:#2b2b2b">have</div>
<div class="t" style="left:437.50px;top:315.97px;font-family:'Liberation Sans',sans-serif;font-weight:bold;font-size:12.5px;color:#2b2b2b">have</div>
<div class="t" style="left:532.00px;top:315.97px;font-family:'Liberation Sans',sans-serif;font-weight:bold;font-size:12.5px;color:#2b2b2b">have</div>
<div class="t" style="left:625.00px;top:314.17px;font-family:'Liberation Sans',sans-serif;font-weight:bold;font-size:12.5px;color:#2b2b2b">have</div>
<div class="t" style="left:719.25px;top:315.97px;font-family:'Liberation Sans',sans-serif;font-weight:bold;font-size:12.5px;color:#2b2b2b">have</div>
<div class="t" style="left:248.50px;top:338.87px;font-family:'Liberation Sans',sans-serif;font-weight:bold;font-size:12.5px;color:#2b2b2b">have</div>
<div class="t" style="left:343.00px;top:338.87px;font-family:'Liberation Sans',sans-serif;font-weight:bold;font-size:12.5px;color:#2b2b2b">have</div>
<div class="t" style="left:437.50px;top:338.87px;font-family:'Liberation Sans',sans-serif;font-weight:bold;font-size:12.5px;color:#2b2b2b">have</div>
<div class="t" style="left:532.00px;top:338.87px;font-family:'Liberation Sans',sans-serif;font-weight:bold;font-size:12.5px;color:#2b2b2b">have</div>
<div class="t" style="left:625.00px;top:338.37px;font-family:'Liberation Sans',sans-serif;font-weight:bold;font-size:12.5px;color:#2b2b2b">have</div>
<div class="t" style="left:719.25px;top:338.37px;font-family:'Liberation Sans',sans-serif;font-weight:bold;font-size:12.5px;color:#2b2b2b">have</div>
<div class="t" style="left:251.07px;top:362.66px;font-family:'Liberation Sans',sans-serif;font-weight:normal;font-size:10.5px;color:#303030;-webkit-text-stroke:0.18px #303030">5000</div>
<div class="t" style="left:345.57px;top:362.66px;font-family:'Liberation Sans',sans-serif;font-weight:normal;font-size:10.5px;color:#303030;-webkit-text-stroke:0.18px #303030">5000</div>
<div class="t" style="left:440.07px;top:362.66px;font-family:'Liberation Sans',sans-serif;font-weight:normal;font-size:10.5px;color:#303030;-webkit-text-stroke:0.18px #303030">5000</div>
<div class="t" style="left:534.57px;top:362.66px;font-family:'Liberation Sans',sans-serif;font-weight:normal;font-size:10.5px;color:#303030;-webkit-text-stroke:0.18px #303030">5000</div>
<div class="t" style="left:629.07px;top:362.66px;font-family:'Liberation Sans',sans-serif;font-weight:normal;font-size:10.5px;color:#303030;-webkit-text-stroke:0.18px #303030">6500</div>
<div class="t" style="left:723.32px;top:362.66px;font-family:'Liberation Sans',sans-serif;font-weight:normal;font-size:10.5px;color:#303030;-webkit-text-stroke:0.18px #303030">6500</div>
<div class="t" style="left:253.98px;top:408.06px;font-family:'Liberation Sans',sans-serif;font-weight:normal;font-size:10.5px;color:#303030;-webkit-text-stroke:0.18px #303030">150</div>
<div class="t" style="left:348.48px;top:408.06px;font-family:'Liberation Sans',sans-serif;font-weight:normal;font-size:10.5px;color:#303030;-webkit-text-stroke:0.18px #303030">150</div>
<div class="t" style="left:442.98px;top:408.06px;font-family:'Liberation Sans',sans-serif;font-weight:normal;font-size:10.5px;color:#303030;-webkit-text-stroke:0.18px #303030">150</div>
<div class="t" style="left:537.48px;top:408.06px;font-family:'Liberation Sans',sans-serif;font-weight:normal;font-size:10.5px;color:#303030;-webkit-text-stroke:0.18px #303030">150</div>
<div class="t" style="left:631.98px;top:408.06px;font-family:'Liberation Sans',sans-serif;font-weight:normal;font-size:10.5px;color:#303030;-webkit-text-stroke:0.18px #303030">140</div>
<div class="t" style="left:726.23px;top:408.06px;font-family:'Liberation Sans',sans-serif;font-weight:normal;font-size:10.5px;color:#303030;-webkit-text-stroke:0.18px #303030">140</div>
<div class="t" style="left:253.98px;top:430.76px;font-family:'Liberation Sans',sans-serif;font-weight:normal;font-size:10.5px;color:#303030;-webkit-text-stroke:0.18px #303030">120</div>
<div class="t" style="left:348.48px;top:430.76px;font-family:'Liberation Sans',sans-serif;font-weight:normal;font-size:10.5px;color:#303030;-webkit-text-stroke:0.18px #303030">120</div>
<div class="t" style="left:442.98px;top:430.76px;font-family:'Liberation Sans',sans-serif;font-weight:normal;font-size:10.5px;color:#303030;-webkit-text-stroke:0.18px #303030">120</div>
<div class="t" style="left:537.48px;top:430.76px;font-family:'Liberation Sans',sans-serif;font-weight:normal;font-size:10.5px;color:#303030;-webkit-text-stroke:0.18px #303030">120</div>
<div class="t" style="left:631.98px;top:430.76px;font-family:'Liberation Sans',sans-serif;font-weight:normal;font-size:10.5px;color:#303030;-webkit-text-stroke:0.18px #303030">120</div>
<div class="t" style="left:726.23px;top:430.76px;font-family:'Liberation Sans',sans-serif;font-weight:normal;font-size:10.5px;color:#303030;-webkit-text-stroke:0.18px #303030">120</div>
<div class="t" style="left:250.63px;top:453.96px;font-family:'Liberation Sans',sans-serif;font-weight:normal;font-size:10.5px;color:#303030;-webkit-text-stroke:0.18px #303030">&lt; 3%</div>
<div class="t" style="left:345.13px;top:453.96px;font-family:'Liberation Sans',sans-serif;font-weight:normal;font-size:10.5px;color:#303030;-webkit-text-stroke:0.18px #303030">&lt; 3%</div>
<div class="t" style="left:439.63px;top:453.96px;font-family:'Liberation Sans',sans-serif;font-weight:normal;font-size:10.5px;color:#303030;-webkit-text-stroke:0.18px #303030">&lt; 3%</div>
<div class="t" style="left:534.13px;top:453.96px;font-family:'Liberation Sans',sans-serif;font-weight:normal;font-size:10.5px;color:#303030;-webkit-text-stroke:0.18px #303030">&lt; 3%</div>
<div class="t" style="left:628.63px;top:453.96px;font-family:'Liberation Sans',sans-serif;font-weight:normal;font-size:10.5px;color:#303030;-webkit-text-stroke:0.18px #303030">&lt; 3%</div>
<div class="t" style="left:722.88px;top:453.96px;font-family:'Liberation Sans',sans-serif;font-weight:normal;font-size:10.5px;color:#303030;-webkit-text-stroke:0.18px #303030">&lt; 3%</div>
<div class="t" style="left:249.36px;top:477.16px;font-family:'Liberation Sans',sans-serif;font-weight:normal;font-size:10.5px;color:#303030;-webkit-text-stroke:0.18px #303030">≥97%</div>
<div class="t" style="left:343.86px;top:477.16px;font-family:'Liberation Sans',sans-serif;font-weight:normal;font-size:10.5px;color:#303030;-webkit-text-stroke:0.18px #303030">≥97%</div>
<div class="t" style="left:438.36px;top:477.16px;font-family:'Liberation Sans',sans-serif;font-weight:normal;font-size:10.5px;color:#303030;-webkit-text-stroke:0.18px #303030">≥97%</div>
<div class="t" style="left:532.86px;top:477.16px;font-family:'Liberation Sans',sans-serif;font-weight:normal;font-size:10.5px;color:#303030;-webkit-text-stroke:0.18px #303030">≥97%</div>
<div class="t" style="left:627.36px;top:477.16px;font-family:'Liberation Sans',sans-serif;font-weight:normal;font-size:10.5px;color:#303030;-webkit-text-stroke:0.18px #303030">≥97%</div>
<div class="t" style="left:721.61px;top:477.16px;font-family:'Liberation Sans',sans-serif;font-weight:normal;font-size:10.5px;color:#303030;-webkit-text-stroke:0.18px #303030">≥97%</div>
<div class="t" style="left:246.69px;top:522.56px;font-family:'Liberation Sans',sans-serif;font-weight:normal;font-size:10.5px;color:#303030;-webkit-text-stroke:0.18px #303030">5000:1</div>
<div class="t" style="left:341.19px;top:522.56px;font-family:'Liberation Sans',sans-serif;font-weight:normal;font-size:10.5px;color:#303030;-webkit-text-stroke:0.18px #303030">5000:1</div>
<div class="t" style="left:435.69px;top:522.56px;font-family:'Liberation Sans',sans-serif;font-weight:normal;font-size:10.5px;color:#303030;-webkit-text-stroke:0.18px #303030">5000:1</div>
<div class="t" style="left:530.19px;top:522.56px;font-family:'Liberation Sans',sans-serif;font-weight:normal;font-size:10.5px;color:#303030;-webkit-text-stroke:0.18px #303030">5000:1</div>
<div class="t" style="left:624.69px;top:522.56px;font-family:'Liberation Sans',sans-serif;font-weight:normal;font-size:10.5px;color:#303030;-webkit-text-stroke:0.18px #303030">5000:1</div>
<div class="t" style="left:718.94px;top:522.56px;font-family:'Liberation Sans',sans-serif;font-weight:normal;font-size:10.5px;color:#303030;-webkit-text-stroke:0.18px #303030">5000:1</div>
<div class="t" style="left:251.07px;top:545.21px;font-family:'Liberation Sans',sans-serif;font-weight:normal;font-size:10.5px;color:#303030;-webkit-text-stroke:0.18px #303030">1000</div>
<div class="t" style="left:348.48px;top:545.21px;font-family:'Liberation Sans',sans-serif;font-weight:normal;font-size:10.5px;color:#303030;-webkit-text-stroke:0.18px #303030">750</div>
<div class="t" style="left:442.98px;top:545.21px;font-family:'Liberation Sans',sans-serif;font-weight:normal;font-size:10.5px;color:#303030;-webkit-text-stroke:0.18px #303030">750</div>
<div class="t" style="left:537.48px;top:545.21px;font-family:'Liberation Sans',sans-serif;font-weight:normal;font-size:10.5px;color:#303030;-webkit-text-stroke:0.18px #303030">750</div>
<div class="t" style="left:631.98px;top:545.21px;font-family:'Liberation Sans',sans-serif;font-weight:normal;font-size:10.5px;color:#303030;-webkit-text-stroke:0.18px #303030">650</div>
<div class="t" style="left:726.23px;top:545.21px;font-family:'Liberation Sans',sans-serif;font-weight:normal;font-size:10.5px;color:#303030;-webkit-text-stroke:0.18px #303030">650</div>
<div class="t" style="left:253.98px;top:568.01px;font-family:'Liberation Sans',sans-serif;font-weight:normal;font-size:10.5px;color:#303030;-webkit-text-stroke:0.18px #303030">333</div>
<div class="t" style="left:348.48px;top:568.01px;font-family:'Liberation Sans',sans-serif;font-weight:normal;font-size:10.5px;color:#303030;-webkit-text-stroke:0.18px #303030">250</div>
<div class="t" style="left:442.98px;top:568.01px;font-family:'Liberation Sans',sans-serif;font-weight:normal;font-size:10.5px;color:#303030;-webkit-text-stroke:0.18px #303030">250</div>
<div class="t" style="left:537.48px;top:568.01px;font-family:'Liberation Sans',sans-serif;font-weight:normal;font-size:10.5px;color:#303030;-webkit-text-stroke:0.18px #303030">250</div>
<div class="t" style="left:631.98px;top:568.01px;font-family:'Liberation Sans',sans-serif;font-weight:normal;font-size:10.5px;color:#303030;-webkit-text-stroke:0.18px #303030">217</div>
<div class="t" style="left:726.23px;top:568.01px;font-family:'Liberation Sans',sans-serif;font-weight:normal;font-size:10.5px;color:#303030;-webkit-text-stroke:0.18px #303030">217</div>
<div class="t" style="left:231.37px;top:586.51px;font-family:'Liberation Sans',sans-serif;font-weight:normal;font-size:10.5px;color:#303030;-webkit-text-stroke:0.18px #303030">AC100~240V</div>
<div class="t" style="left:239.70px;top:599.21px;font-family:'Liberation Sans',sans-serif;font-weight:normal;font-size:10.5px;color:#303030;-webkit-text-stroke:0.18px #303030">(50/60Hz)</div>
<div class="t" style="left:325.87px;top:586.51px;font-family:'Liberation Sans',sans-serif;font-weight:normal;font-size:10.5px;color:#303030;-webkit-text-stroke:0.18px #303030">AC100~240V</div>
<div class="t" style="left:334.20px;top:599.21px;font-family:'Liberation Sans',sans-serif;font-weight:normal;font-size:10.5px;color:#303030;-webkit-text-stroke:0.18px #303030">(50/60Hz)</div>
<div class="t" style="left:420.37px;top:586.51px;font-family:'Liberation Sans',sans-serif;font-weight:normal;font-size:10.5px;color:#303030;-webkit-text-stroke:0.18px #303030">AC100~240V</div>
<div class="t" style="left:428.70px;top:599.21px;font-family:'Liberation Sans',sans-serif;font-weight:normal;font-size:10.5px;color:#303030;-webkit-text-stroke:0.18px #303030">(50/60Hz)</div>
<div class="t" style="left:514.87px;top:586.51px;font-family:'Liberation Sans',sans-serif;font-weight:normal;font-size:10.5px;color:#303030;-webkit-text-stroke:0.18px #303030">AC100~240V</div>
<div class="t" style="left:523.20px;top:599.21px;font-family:'Liberation Sans',sans-serif;font-weight:normal;font-size:10.5px;color:#303030;-webkit-text-stroke:0.18px #303030">(50/60Hz)</div>
<div class="t" style="left:609.37px;top:586.51px;font-family:'Liberation Sans',sans-serif;font-weight:normal;font-size:10.5px;color:#303030;-webkit-text-stroke:0.18px #303030">AC100~240V</div>
<div class="t" style="left:617.70px;top:599.21px;font-family:'Liberation Sans',sans-serif;font-weight:normal;font-size:10.5px;color:#303030;-webkit-text-stroke:0.18px #303030">(50/60Hz)</div>
<div class="t" style="left:703.62px;top:586.51px;font-family:'Liberation Sans',sans-serif;font-weight:normal;font-size:10.5px;color:#303030;-webkit-text-stroke:0.18px #303030">AC100~240V</div>
<div class="t" style="left:711.95px;top:599.21px;font-family:'Liberation Sans',sans-serif;font-weight:normal;font-size:10.5px;color:#303030;-webkit-text-stroke:0.18px #303030">(50/60Hz)</div>
<div class="t" style="left:247.56px;top:641.41px;font-family:'Liberation Sans',sans-serif;font-weight:normal;font-size:10.5px;color:#303030;-webkit-text-stroke:0.18px #303030">50&amp;60</div>
<div class="t" style="left:342.06px;top:641.41px;font-family:'Liberation Sans',sans-serif;font-weight:normal;font-size:10.5px;color:#303030;-webkit-text-stroke:0.18px #303030">50&amp;60</div>
<div class="t" style="left:436.56px;top:641.41px;font-family:'Liberation Sans',sans-serif;font-weight:normal;font-size:10.5px;color:#303030;-webkit-text-stroke:0.18px #303030">50&amp;60</div>
<div class="t" style="left:531.06px;top:641.41px;font-family:'Liberation Sans',sans-serif;font-weight:normal;font-size:10.5px;color:#303030;-webkit-text-stroke:0.18px #303030">50&amp;60</div>
<div class="t" style="left:625.56px;top:641.41px;font-family:'Liberation Sans',sans-serif;font-weight:normal;font-size:10.5px;color:#303030;-webkit-text-stroke:0.18px #303030">50&amp;60</div>
<div class="t" style="left:719.81px;top:641.41px;font-family:'Liberation Sans',sans-serif;font-weight:normal;font-size:10.5px;color:#303030;-webkit-text-stroke:0.18px #303030">50&amp;60</div>
<div class="t" style="left:237.93px;top:664.51px;font-family:'Liberation Sans',sans-serif;font-weight:normal;font-size:10.5px;color:#303030;-webkit-text-stroke:0.18px #303030">1920/3000</div>
<div class="t" style="left:332.43px;top:664.51px;font-family:'Liberation Sans',sans-serif;font-weight:normal;font-size:10.5px;color:#303030;-webkit-text-stroke:0.18px #303030">1920/3000</div>
<div class="t" style="left:426.93px;top:664.51px;font-family:'Liberation Sans',sans-serif;font-weight:normal;font-size:10.5px;color:#303030;-webkit-text-stroke:0.18px #303030">1920/3000</div>
<div class="t" style="left:521.43px;top:664.51px;font-family:'Liberation Sans',sans-serif;font-weight:normal;font-size:10.5px;color:#303030;-webkit-text-stroke:0.18px #303030">1920/3000</div>
<div class="t" style="left:615.93px;top:664.51px;font-family:'Liberation Sans',sans-serif;font-weight:normal;font-size:10.5px;color:#303030;-webkit-text-stroke:0.18px #303030">1920/3000</div>
<div class="t" style="left:710.18px;top:664.51px;font-family:'Liberation Sans',sans-serif;font-weight:normal;font-size:10.5px;color:#303030;-webkit-text-stroke:0.18px #303030">1920/3000</div>
<div class="t" style="left:246.69px;top:687.26px;font-family:'Liberation Sans',sans-serif;font-weight:normal;font-size:10.5px;color:#303030;-webkit-text-stroke:0.18px #303030">50,000</div>
<div class="t" style="left:341.19px;top:687.26px;font-family:'Liberation Sans',sans-serif;font-weight:normal;font-size:10.5px;color:#303030;-webkit-text-stroke:0.18px #303030">50,000</div>
<div class="t" style="left:435.69px;top:687.26px;font-family:'Liberation Sans',sans-serif;font-weight:normal;font-size:10.5px;color:#303030;-webkit-text-stroke:0.18px #303030">50,000</div>
<div class="t" style="left:530.19px;top:687.26px;font-family:'Liberation Sans',sans-serif;font-weight:normal;font-size:10.5px;color:#303030;-webkit-text-stroke:0.18px #303030">50,000</div>
<div class="t" style="left:624.69px;top:687.26px;font-family:'Liberation Sans',sans-serif;font-weight:normal;font-size:10.5px;color:#303030;-webkit-text-stroke:0.18px #303030">50,000</div>
<div class="t" style="left:718.94px;top:687.26px;font-family:'Liberation Sans',sans-serif;font-weight:normal;font-size:10.5px;color:#303030;-webkit-text-stroke:0.18px #303030">50,000</div>
<div class="t" style="left:245.82px;top:710.06px;font-family:'Liberation Sans',sans-serif;font-weight:normal;font-size:10.5px;color:#303030;-webkit-text-stroke:0.18px #303030">-20--40</div>
<div class="t" style="left:340.32px;top:710.06px;font-family:'Liberation Sans',sans-serif;font-weight:normal;font-size:10.5px;color:#303030;-webkit-text-stroke:0.18px #303030">-20--40</div>
<div class="t" style="left:434.82px;top:710.06px;font-family:'Liberation Sans',sans-serif;font-weight:normal;font-size:10.5px;color:#303030;-webkit-text-stroke:0.18px #303030">-20--40</div>
<div class="t" style="left:529.32px;top:710.06px;font-family:'Liberation Sans',sans-serif;font-weight:normal;font-size:10.5px;color:#303030;-webkit-text-stroke:0.18px #303030">-20--40</div>
<div class="t" style="left:623.82px;top:710.06px;font-family:'Liberation Sans',sans-serif;font-weight:normal;font-size:10.5px;color:#303030;-webkit-text-stroke:0.18px #303030">-20--40</div>
<div class="t" style="left:718.07px;top:710.06px;font-family:'Liberation Sans',sans-serif;font-weight:normal;font-size:10.5px;color:#303030;-webkit-text-stroke:0.18px #303030">-20--40</div>
<div class="t" style="left:245.82px;top:733.11px;font-family:'Liberation Sans',sans-serif;font-weight:normal;font-size:10.5px;color:#303030;-webkit-text-stroke:0.18px #303030">-30--60</div>
<div class="t" style="left:340.32px;top:733.11px;font-family:'Liberation Sans',sans-serif;font-weight:normal;font-size:10.5px;color:#303030;-webkit-text-stroke:0.18px #303030">-30--60</div>
<div class="t" style="left:434.82px;top:733.11px;font-family:'Liberation Sans',sans-serif;font-weight:normal;font-size:10.5px;color:#303030;-webkit-text-stroke:0.18px #303030">-30--60</div>
<div class="t" style="left:529.32px;top:733.11px;font-family:'Liberation Sans',sans-serif;font-weight:normal;font-size:10.5px;color:#303030;-webkit-text-stroke:0.18px #303030">-30--60</div>
<div class="t" style="left:623.82px;top:733.11px;font-family:'Liberation Sans',sans-serif;font-weight:normal;font-size:10.5px;color:#303030;-webkit-text-stroke:0.18px #303030">-30--60</div>
<div class="t" style="left:718.07px;top:733.11px;font-family:'Liberation Sans',sans-serif;font-weight:normal;font-size:10.5px;color:#303030;-webkit-text-stroke:0.18px #303030">-30--60</div>
<div class="t" style="left:438.88px;top:40.04px;font-family:'Liberation Sans',sans-serif;font-weight:bold;font-size:12px;color:#2b2b2b">Table stick a triad</div>
<div class="t" style="left:492.13px;top:383.22px;transform:scaleX(1.0257);font-family:'Liberation Sans',sans-serif;font-weight:bold;font-size:12.5px;color:#2b2b2b">3000-1000adjustable</div>
<div class="t" style="left:503.82px;top:499.52px;transform:scaleX(1.1244);font-family:'Liberation Sans',sans-serif;font-weight:normal;font-size:11.5px;color:#2b2b2b;-webkit-text-stroke:0.18px #2b2b2b">±0.003Cx,C<span style="font-family:'Liberation Serif';font-size:0.85em">y</span>&nbsp; within</div>
<div class="t" style="left:468.73px;top:616.60px;transform:scaleX(0.9901);font-family:'Liberation Sans',sans-serif;font-weight:normal;font-size:13px;color:#2b2b2b;-webkit-text-stroke:0.18px #2b2b2b">Constant current drive</div>
<div class="t" style="left:452.23px;top:754.50px;transform:scaleX(0.9889);font-family:'Liberation Sans',sans-serif;font-weight:normal;font-size:13px;color:#2b2b2b;-webkit-text-stroke:0.18px #2b2b2b">10-80%No coagulate frost</div>
<div class="t" style="left:451.43px;top:776.20px;transform:scaleX(0.9889);font-family:'Liberation Sans',sans-serif;font-weight:normal;font-size:13px;color:#2b2b2b;-webkit-text-stroke:0.18px #2b2b2b">10-85%No coagulate frost</div>
<div class="t" style="left:15.68px;top:806.48px;transform:scaleX(1.0064);font-family:'Liberation Sans',sans-serif;font-weight:bold;font-size:10.3px;color:#1a1a1a">Note: the parameters can be adjusted according to specific requirements</div>
<svg style="position:absolute;left:0;top:0" width="800" height="825" viewBox="0 0 800 825"><g fill="none" stroke="#4a4a4a" stroke-width="0.95" stroke-linecap="round" stroke-linejoin="round"><path d="M762.6 500.3 L763.6 501.6"/><path d="M760.6 503.4 L765.7 503.4 L760.3 508.0"/><path d="M760.3 508.0 Q761.5 509.2 766.6 509.2"/><path d="M768.4 509.6 L768.4 503.0 L775.9 503.0 L775.9 508.8 Q775.9 509.6 774.6 509.3"/><path d="M772.1 500.2 L772.1 504.6"/><path d="M772.1 504.4 L769.6 507.6"/><path d="M772.3 504.8 L774.6 507.6"/></g></svg>
</body></html>
